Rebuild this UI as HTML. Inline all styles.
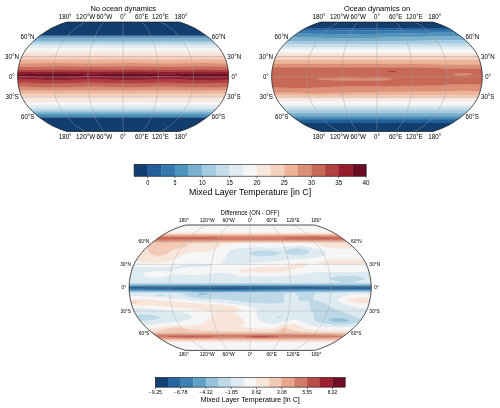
<!DOCTYPE html>
<html><head><meta charset="utf-8"><style>html,body{margin:0;padding:0;background:#fff;width:500px;height:408px;overflow:hidden}svg{display:block}</style></head><body><svg width="500" height="408" viewBox="0 0 500 408" font-family="Liberation Sans, sans-serif"><clipPath id="c0"><path d="M66.95 131.40L65.32 130.92L63.60 130.39L61.71 129.73L59.63 128.93L57.43 128.04L55.18 127.06L52.97 126.03L50.88 124.96L48.93 123.85L47.09 122.72L45.30 121.56L43.57 120.37L41.87 119.17L40.21 117.94L38.58 116.69L37.00 115.42L35.47 114.14L33.99 112.84L32.58 111.53L31.25 110.21L30.01 108.87L28.84 107.53L27.70 106.18L26.61 104.83L25.60 103.47L24.66 102.10L23.81 100.73L23.01 99.36L22.27 97.99L21.61 96.62L21.02 95.25L20.51 93.88L20.08 92.51L19.70 91.14L19.34 89.77L18.99 88.40L18.68 87.03L18.41 85.66L18.19 84.29L18.01 82.92L17.87 81.55L17.75 80.18L17.66 78.81L17.61 77.44L17.61 76.06L17.66 74.69L17.75 73.32L17.87 71.95L18.01 70.58L18.19 69.21L18.41 67.84L18.68 66.47L18.99 65.10L19.34 63.73L19.70 62.36L20.08 60.99L20.51 59.62L21.02 58.25L21.61 56.88L22.27 55.51L23.01 54.14L23.81 52.77L24.66 51.40L25.60 50.03L26.61 48.67L27.70 47.32L28.84 45.97L30.01 44.63L31.25 43.29L32.58 41.97L33.99 40.66L35.47 39.36L37.00 38.08L38.58 36.81L40.21 35.56L41.87 34.33L43.57 33.13L45.30 31.94L47.09 30.78L48.93 29.65L50.88 28.54L52.97 27.47L55.18 26.44L57.43 25.46L59.63 24.57L61.71 23.77L63.60 23.11L65.32 22.58L66.95 22.10L179.25 22.10L180.88 22.58L182.60 23.11L184.49 23.77L186.57 24.57L188.77 25.46L191.02 26.44L193.23 27.47L195.32 28.54L197.27 29.65L199.11 30.78L200.90 31.94L202.63 33.13L204.33 34.33L205.99 35.56L207.62 36.81L209.20 38.08L210.73 39.36L212.21 40.66L213.62 41.97L214.95 43.29L216.19 44.63L217.36 45.97L218.50 47.32L219.59 48.67L220.60 50.03L221.54 51.40L222.39 52.77L223.19 54.14L223.93 55.51L224.59 56.88L225.18 58.25L225.69 59.62L226.12 60.99L226.50 62.36L226.86 63.73L227.21 65.10L227.52 66.47L227.79 67.84L228.01 69.21L228.19 70.58L228.33 71.95L228.45 73.32L228.54 74.69L228.59 76.06L228.59 77.44L228.54 78.81L228.45 80.18L228.33 81.55L228.19 82.92L228.01 84.29L227.79 85.66L227.52 87.03L227.21 88.40L226.86 89.77L226.50 91.14L226.12 92.51L225.69 93.88L225.18 95.25L224.59 96.62L223.93 97.99L223.19 99.36L222.39 100.73L221.54 102.10L220.60 103.47L219.59 104.83L218.50 106.18L217.36 107.53L216.19 108.87L214.95 110.21L213.62 111.53L212.21 112.84L210.73 114.14L209.20 115.42L207.62 116.69L205.99 117.94L204.33 119.17L202.63 120.37L200.90 121.56L199.11 122.72L197.27 123.85L195.32 124.96L193.23 126.03L191.02 127.06L188.77 128.04L186.57 128.93L184.49 129.73L182.60 130.39L180.88 130.92L179.25 131.40Z"/></clipPath>
<g clip-path="url(#c0)">
<path fill="#113e6f" stroke="#113e6f" stroke-width="0.35" d="M16.4 132.5l214.3 0l0 -14.5l-215.2 0l0 14.5ZM16.4 35.5l214.3 0l0 -14.5l-215.2 0l0 14.5Z"/>
<path fill="#235d9a" stroke="#235d9a" stroke-width="0.35" d="M16.4 118.0l214.3 0l0 -1l-215.2 0l0 1ZM16.4 36.3l214.3 0l0 -.8l-215.2 0l0 .8Z"/>
<path fill="#3679af" stroke="#3679af" stroke-width="0.35" d="M16.4 117.0l214.3 0l0 -1.1l-215.2 0l0 1.1ZM16.4 37.4l214.3 0l0 -1.1l-215.2 0l0 1.1Z"/>
<path fill="#4c93be" stroke="#4c93be" stroke-width="0.35" d="M16.4 115.9l214.3 0l0 -1.9l-215.2 0l0 1.9ZM16.4 38.6l214.3 0l0 -1.2l-215.2 0l0 1.2Z"/>
<path fill="#79b1cf" stroke="#79b1cf" stroke-width="0.35" d="M16.4 114.0l214.3 0l0 -2l-215.2 0l0 2ZM16.4 41.0l214.3 0l0 -2.4l-215.2 0l0 2.4Z"/>
<path fill="#a3cbdf" stroke="#a3cbdf" stroke-width="0.35" d="M16.4 112.0l214.3 0l0 -2l-215.2 0l0 2ZM16.4 43.0l214.3 0l0 -2l-215.2 0l0 2Z"/>
<path fill="#c7deea" stroke="#c7deea" stroke-width="0.35" d="M16.4 110.0l214.3 0l0 -2l-215.2 0l0 2ZM16.4 45.0l214.3 0l0 -2l-215.2 0l0 2Z"/>
<path fill="#e1ecf2" stroke="#e1ecf2" stroke-width="0.35" d="M16.4 108.0l214.3 0l0 -3l-215.2 0l0 3ZM16.4 48.1l214.3 -.1l0 -3l-215.2 0l0 3Z"/>
<path fill="#f7f6f6" stroke="#f7f6f6" stroke-width="0.35" d="M16.4 105.0l214.3 0l0 -3.1l-215.2 0l0 3.1ZM16.4 52.0l214.3 0l0 -4l-215.2 0l0 4Z"/>
<path fill="#f8e7dd" stroke="#f8e7dd" stroke-width="0.35" d="M16.4 101.9l214.3 0l0 -5.4l-27.8 .2l-38.5 -.3l-35 .3l-37.7 -.3l-35.9 .3l-40.3 -.3l0 5.5ZM16.4 56.1l39.4 -.2l35.9 .2l37.7 -.2l35 .2l38.5 -.2l27.8 .1l0 -4l-215.2 0l0 4.1Z"/>
<path fill="#f5d2bf" stroke="#f5d2bf" stroke-width="0.35" d="M46.0 96.6l47.5 -.2l37.7 .3l35.8 -.3l36.8 .3l26.9 -.2l0 -3l-27.8 .2l-38.5 -.3l-35 .3l-37.7 -.3l-35.9 .3l-40.3 -.3l0 3l29.9 .2ZM16.4 59.6l39.4 -.4l35.9 .4l37.7 -.4l35 .4l38.5 -.4l27.8 .3l0 -3.5l-27.8 -.1l-38.5 .2l-35 -.2l-37.7 .2l-35.9 -.2l-40.3 .2l0 3.5Z"/>
<path fill="#edb49a" stroke="#edb49a" stroke-width="0.35" d="M29.8 93.5l26.9 .2l38.6 -.3l35 .3l37.6 -.3l35.9 .3l26.9 -.2l0 -3.4l-27.8 .4l-38.5 -.4l-35 .4l-37.7 -.4l-35.9 .4l-40.3 -.4l0 3.3l13.6 .1ZM16.4 63.5l39.4 -.5l35.9 .5l37.7 -.5l35 .5l38.5 -.5l27.8 .5l0 -4l-27.8 -.3l-38.5 .4l-35 -.4l-37.7 .4l-35.9 -.4l-40.3 .4l0 3.9Z"/>
<path fill="#dc9078" stroke="#dc9078" stroke-width="0.35" d="M39.7 90.3l19.7 .2l35 -.4l36.8 .4l35.8 -.4l36.8 .4l26.9 -.4l0 -3.4l-27.8 .6l-38.5 -.7l-35 .7l-37.7 -.7l-35.9 .7l-30.4 -.6l-9.9 -.1l0 3.5l24 .2ZM16.4 66.9l39.4 -.6l35.9 .6l37.7 -.6l35 .6l38.5 -.6l27.8 .5l0 -3.3l-27.8 -.5l-38.5 .5l-35 -.5l-37.7 .5l-35.9 -.5l-40.3 .5l0 3.4Z"/>
<path fill="#c86958" stroke="#c86958" stroke-width="0.35" d="M46.9 87.2l15.2 .1l30.5 -.7l35 .7l38.5 -.7l32.3 .7l17.1 -.1l15.2 -.5l0 -3.9l-18.8 .6l-9 .2l-27.8 -.8l-10.7 -.1l-35 .9l-27.8 -.8l-9.9 -.1l-35.9 .9l-28.7 -.8l-11.6 -.1l0 3.9l10.8 .1l19.7 .5ZM16.4 70.1l39.4 -.6l35.9 .6l37.7 -.6l34.1 .6l39.4 -.6l27.8 .5l0 -3.2l-27.8 -.5l-38.5 .6l-35 -.6l-37.7 .6l-29.6 -.6l-13.4 .1l-21.6 .5l-11.6 0l0 3.2Z"/>
<path fill="#b14041" stroke="#b14041" stroke-width="0.35" d="M46.0 83.4l14.3 .1l23.3 -.7l9.9 -.1l37.7 .8l35.8 -.8l30.5 .8l12.6 0l20.6 -.7l0 -3.2l-27.8 .6l-27.8 -.7l-10.7 0l-35 .7l-37.7 -.7l-35.9 .7l-28.7 -.7l-11.6 0l0 3.2l11.6 .1l18.2 .6ZM16.4 71.8l39.4 -.5l35.9 .5l37.7 -.5l35 .5l38.5 -.5l27.8 .4l0 -1.7l-27.8 -.5l-39.4 .6l-34.1 -.6l-37.7 .6l-38.5 -.6l-24.3 .5l-13.4 .1l0 1.7Z"/>
<path fill="#961d2e" stroke="#961d2e" stroke-width="0.35" d="M54.9 80.2l37.7 -.7l35 .7l38.5 -.7l9.9 .1l22.4 .6l11.7 0l20.6 -.6l0 -2.9l-16 .7l-12.7 .2l-9.8 -.2l-18.9 -.8l-8.1 -.2l-24.2 1l-11.6 .2l-10.9 -.2l-18.7 -.8l-8.1 -.2l-24.2 1l-11.7 .2l-12.5 -.2l-18.8 -.9l-9 0l0 3l12.2 0l26.6 .7ZM16.4 74.4l9 -.1l13.2 -.7l17.2 -.3l17.9 .3l10.8 .6l7.2 .2l8.1 -.1l12.4 -.7l17.2 -.3l18 .3l17.8 .8l9 -.2l11.7 -.6l16.1 -.2l19 .2l9.7 .5l0 -2.4l-26 -.4l-37.7 .5l-34.9 -.5l-38.6 .5l-31.4 -.5l-15.2 .1l-31.4 .4l0 2.5Z"/>
<path fill="#6d0d24" stroke="#6d0d24" stroke-width="0.35" d="M45.1 77.5l19.7 0l21.5 -.9l7.2 -.2l7.2 .2l17.8 .8l14.5 .2l8.9 -.2l18 -.8l7.1 -.2l7.2 .2l18 .8l18.8 .1l12.9 -.4l6.8 -.4l0 -2.6l-9.7 -.5l-19 -.2l-16.1 .2l-11.7 .6l-9 .2l-17.8 -.8l-18 -.3l-17.2 .3l-12.4 .7l-8.1 .1l-7.2 -.2l-10.8 -.6l-17.9 -.3l-17.2 .3l-15 .7l-8.1 0l0 2.2l9.9 0l19.5 .9Z"/>
<path fill="none" stroke="#a0a0a0" stroke-opacity="0.62" stroke-width="0.7" d="M85.67 131.40L84.01 130.66L82.15 129.72L80.02 128.47L77.77 127.03L75.58 125.45L73.59 123.80L71.75 122.07L70.00 120.29L68.30 118.46L66.66 116.58L65.09 114.66L63.59 112.71L62.20 110.72L60.95 108.72L59.78 106.69L58.68 104.64L57.69 102.59L56.82 100.53L56.04 98.46L55.37 96.39L54.81 94.32L54.37 92.26L54.00 90.19L53.65 88.12L53.36 86.05L53.13 83.99L52.97 81.92L52.85 79.85L52.78 77.78L52.78 75.72L52.85 73.65L52.97 71.58L53.13 69.51L53.36 67.45L53.65 65.38L54.00 63.31L54.37 61.24L54.81 59.18L55.37 57.11L56.04 55.04L56.82 52.97L57.69 50.91L58.68 48.86L59.78 46.81L60.95 44.78L62.20 42.78L63.59 40.79L65.09 38.84L66.66 36.92L68.30 35.04L70.00 33.21L71.75 31.43L73.59 29.70L75.58 28.05L77.77 26.47L80.02 25.03L82.15 23.78L84.01 22.84L85.67 22.10M104.38 131.40L103.55 130.66L102.62 129.72L101.56 128.47L100.43 127.03L99.34 125.45L98.35 123.80L97.43 122.07L96.55 120.29L95.70 118.46L94.88 116.58L94.09 114.66L93.35 112.71L92.65 110.72L92.02 108.72L91.44 106.69L90.89 104.64L90.40 102.59L89.96 100.53L89.57 98.46L89.23 96.39L88.96 94.32L88.74 92.26L88.55 90.19L88.38 88.12L88.23 86.05L88.12 83.99L88.03 81.92L87.98 79.85L87.94 77.78L87.94 75.72L87.98 73.65L88.03 71.58L88.12 69.51L88.23 67.45L88.38 65.38L88.55 63.31L88.74 61.24L88.96 59.18L89.23 57.11L89.57 55.04L89.96 52.97L90.40 50.91L90.89 48.86L91.44 46.81L92.02 44.78L92.65 42.78L93.35 40.79L94.09 38.84L94.88 36.92L95.70 35.04L96.55 33.21L97.43 31.43L98.35 29.70L99.34 28.05L100.43 26.47L101.56 25.03L102.62 23.78L103.55 22.84L104.38 22.10M123.10 131.40L123.10 130.66L123.10 129.72L123.10 128.47L123.10 127.03L123.10 125.45L123.10 123.80L123.10 122.07L123.10 120.29L123.10 118.46L123.10 116.58L123.10 114.66L123.10 112.71L123.10 110.72L123.10 108.72L123.10 106.69L123.10 104.64L123.10 102.59L123.10 100.53L123.10 98.46L123.10 96.39L123.10 94.32L123.10 92.26L123.10 90.19L123.10 88.12L123.10 86.05L123.10 83.99L123.10 81.92L123.10 79.85L123.10 77.78L123.10 75.72L123.10 73.65L123.10 71.58L123.10 69.51L123.10 67.45L123.10 65.38L123.10 63.31L123.10 61.24L123.10 59.18L123.10 57.11L123.10 55.04L123.10 52.97L123.10 50.91L123.10 48.86L123.10 46.81L123.10 44.78L123.10 42.78L123.10 40.79L123.10 38.84L123.10 36.92L123.10 35.04L123.10 33.21L123.10 31.43L123.10 29.70L123.10 28.05L123.10 26.47L123.10 25.03L123.10 23.78L123.10 22.84L123.10 22.10M141.82 131.40L142.65 130.66L143.58 129.72L144.64 128.47L145.77 127.03L146.86 125.45L147.85 123.80L148.77 122.07L149.65 120.29L150.50 118.46L151.32 116.58L152.11 114.66L152.85 112.71L153.55 110.72L154.18 108.72L154.76 106.69L155.31 104.64L155.80 102.59L156.24 100.53L156.63 98.46L156.97 96.39L157.24 94.32L157.46 92.26L157.65 90.19L157.82 88.12L157.97 86.05L158.08 83.99L158.17 81.92L158.22 79.85L158.26 77.78L158.26 75.72L158.22 73.65L158.17 71.58L158.08 69.51L157.97 67.45L157.82 65.38L157.65 63.31L157.46 61.24L157.24 59.18L156.97 57.11L156.63 55.04L156.24 52.97L155.80 50.91L155.31 48.86L154.76 46.81L154.18 44.78L153.55 42.78L152.85 40.79L152.11 38.84L151.32 36.92L150.50 35.04L149.65 33.21L148.77 31.43L147.85 29.70L146.86 28.05L145.77 26.47L144.64 25.03L143.58 23.78L142.65 22.84L141.82 22.10M160.53 131.40L162.19 130.66L164.05 129.72L166.18 128.47L168.43 127.03L170.62 125.45L172.61 123.80L174.45 122.07L176.20 120.29L177.90 118.46L179.54 116.58L181.11 114.66L182.61 112.71L184.00 110.72L185.25 108.72L186.42 106.69L187.52 104.64L188.51 102.59L189.38 100.53L190.16 98.46L190.83 96.39L191.39 94.32L191.83 92.26L192.20 90.19L192.55 88.12L192.84 86.05L193.07 83.99L193.23 81.92L193.35 79.85L193.42 77.78L193.42 75.72L193.35 73.65L193.23 71.58L193.07 69.51L192.84 67.45L192.55 65.38L192.20 63.31L191.83 61.24L191.39 59.18L190.83 57.11L190.16 55.04L189.38 52.97L188.51 50.91L187.52 48.86L186.42 46.81L185.25 44.78L184.00 42.78L182.61 40.79L181.11 38.84L179.54 36.92L177.90 35.04L176.20 33.21L174.45 31.43L172.61 29.70L170.62 28.05L168.43 26.47L166.18 25.03L164.05 23.78L162.19 22.84L160.53 22.10M38.85 116.90L207.35 116.90M21.82 97.08L224.38 97.08M17.60 76.75L228.60 76.75M21.82 56.42L224.38 56.42M38.85 36.60L207.35 36.60"/>
</g>
<path fill="none" stroke="#1a1a1a" stroke-width="0.75" d="M66.95 131.40L65.32 130.92L63.60 130.39L61.71 129.73L59.63 128.93L57.43 128.04L55.18 127.06L52.97 126.03L50.88 124.96L48.93 123.85L47.09 122.72L45.30 121.56L43.57 120.37L41.87 119.17L40.21 117.94L38.58 116.69L37.00 115.42L35.47 114.14L33.99 112.84L32.58 111.53L31.25 110.21L30.01 108.87L28.84 107.53L27.70 106.18L26.61 104.83L25.60 103.47L24.66 102.10L23.81 100.73L23.01 99.36L22.27 97.99L21.61 96.62L21.02 95.25L20.51 93.88L20.08 92.51L19.70 91.14L19.34 89.77L18.99 88.40L18.68 87.03L18.41 85.66L18.19 84.29L18.01 82.92L17.87 81.55L17.75 80.18L17.66 78.81L17.61 77.44L17.61 76.06L17.66 74.69L17.75 73.32L17.87 71.95L18.01 70.58L18.19 69.21L18.41 67.84L18.68 66.47L18.99 65.10L19.34 63.73L19.70 62.36L20.08 60.99L20.51 59.62L21.02 58.25L21.61 56.88L22.27 55.51L23.01 54.14L23.81 52.77L24.66 51.40L25.60 50.03L26.61 48.67L27.70 47.32L28.84 45.97L30.01 44.63L31.25 43.29L32.58 41.97L33.99 40.66L35.47 39.36L37.00 38.08L38.58 36.81L40.21 35.56L41.87 34.33L43.57 33.13L45.30 31.94L47.09 30.78L48.93 29.65L50.88 28.54L52.97 27.47L55.18 26.44L57.43 25.46L59.63 24.57L61.71 23.77L63.60 23.11L65.32 22.58L66.95 22.10L179.25 22.10L180.88 22.58L182.60 23.11L184.49 23.77L186.57 24.57L188.77 25.46L191.02 26.44L193.23 27.47L195.32 28.54L197.27 29.65L199.11 30.78L200.90 31.94L202.63 33.13L204.33 34.33L205.99 35.56L207.62 36.81L209.20 38.08L210.73 39.36L212.21 40.66L213.62 41.97L214.95 43.29L216.19 44.63L217.36 45.97L218.50 47.32L219.59 48.67L220.60 50.03L221.54 51.40L222.39 52.77L223.19 54.14L223.93 55.51L224.59 56.88L225.18 58.25L225.69 59.62L226.12 60.99L226.50 62.36L226.86 63.73L227.21 65.10L227.52 66.47L227.79 67.84L228.01 69.21L228.19 70.58L228.33 71.95L228.45 73.32L228.54 74.69L228.59 76.06L228.59 77.44L228.54 78.81L228.45 80.18L228.33 81.55L228.19 82.92L228.01 84.29L227.79 85.66L227.52 87.03L227.21 88.40L226.86 89.77L226.50 91.14L226.12 92.51L225.69 93.88L225.18 95.25L224.59 96.62L223.93 97.99L223.19 99.36L222.39 100.73L221.54 102.10L220.60 103.47L219.59 104.83L218.50 106.18L217.36 107.53L216.19 108.87L214.95 110.21L213.62 111.53L212.21 112.84L210.73 114.14L209.20 115.42L207.62 116.69L205.99 117.94L204.33 119.17L202.63 120.37L200.90 121.56L199.11 122.72L197.27 123.85L195.32 124.96L193.23 126.03L191.02 127.06L188.77 128.04L186.57 128.93L184.49 129.73L182.60 130.39L180.88 130.92L179.25 131.40Z"/>
<clipPath id="c1"><path d="M320.88 131.40L319.25 130.92L317.54 130.39L315.64 129.73L313.57 128.93L311.37 128.04L309.13 127.06L306.92 126.03L304.83 124.96L302.89 123.85L301.04 122.72L299.26 121.56L297.53 120.37L295.84 119.17L294.17 117.94L292.55 116.69L290.97 115.42L289.44 114.14L287.96 112.84L286.55 111.53L285.23 110.21L283.99 108.87L282.82 107.53L281.69 106.18L280.60 104.83L279.59 103.47L278.65 102.10L277.80 100.73L277.00 99.36L276.26 97.99L275.60 96.62L275.02 95.25L274.51 93.88L274.08 92.51L273.70 91.14L273.34 89.77L272.99 88.40L272.68 87.03L272.41 85.66L272.19 84.29L272.01 82.92L271.87 81.55L271.75 80.18L271.66 78.81L271.61 77.44L271.61 76.06L271.66 74.69L271.75 73.32L271.87 71.95L272.01 70.58L272.19 69.21L272.41 67.84L272.68 66.47L272.99 65.10L273.34 63.73L273.70 62.36L274.08 60.99L274.51 59.62L275.02 58.25L275.60 56.88L276.26 55.51L277.00 54.14L277.80 52.77L278.65 51.40L279.59 50.03L280.60 48.67L281.69 47.32L282.82 45.97L283.99 44.63L285.23 43.29L286.55 41.97L287.96 40.66L289.44 39.36L290.97 38.08L292.55 36.81L294.17 35.56L295.84 34.33L297.53 33.13L299.26 31.94L301.04 30.78L302.89 29.65L304.83 28.54L306.92 27.47L309.13 26.44L311.37 25.46L313.57 24.57L315.64 23.77L317.54 23.11L319.25 22.58L320.88 22.10L433.02 22.10L434.65 22.58L436.36 23.11L438.26 23.77L440.33 24.57L442.53 25.46L444.77 26.44L446.98 27.47L449.07 28.54L451.01 29.65L452.86 30.78L454.64 31.94L456.37 33.13L458.06 34.33L459.73 35.56L461.35 36.81L462.93 38.08L464.46 39.36L465.94 40.66L467.35 41.97L468.67 43.29L469.91 44.63L471.08 45.97L472.21 47.32L473.30 48.67L474.31 50.03L475.25 51.40L476.10 52.77L476.90 54.14L477.64 55.51L478.30 56.88L478.88 58.25L479.39 59.62L479.82 60.99L480.20 62.36L480.56 63.73L480.91 65.10L481.22 66.47L481.49 67.84L481.71 69.21L481.89 70.58L482.03 71.95L482.15 73.32L482.24 74.69L482.29 76.06L482.29 77.44L482.24 78.81L482.15 80.18L482.03 81.55L481.89 82.92L481.71 84.29L481.49 85.66L481.22 87.03L480.91 88.40L480.56 89.77L480.20 91.14L479.82 92.51L479.39 93.88L478.88 95.25L478.30 96.62L477.64 97.99L476.90 99.36L476.10 100.73L475.25 102.10L474.31 103.47L473.30 104.83L472.21 106.18L471.08 107.53L469.91 108.87L468.67 110.21L467.35 111.53L465.94 112.84L464.46 114.14L462.93 115.42L461.35 116.69L459.73 117.94L458.06 119.17L456.37 120.37L454.64 121.56L452.86 122.72L451.01 123.85L449.07 124.96L446.98 126.03L444.77 127.06L442.53 128.04L440.33 128.93L438.26 129.73L436.36 130.39L434.65 130.92L433.02 131.40Z"/></clipPath>
<g clip-path="url(#c1)">
<path fill="#113e6f" stroke="#113e6f" stroke-width="0.35" d="M270.4 132.5l214 0l0 -9.6l-214.9 0l0 9.6ZM270.4 28.1l77 .2l137 -.3l0 -7l-214.9 0l0 7.1Z"/>
<path fill="#235d9a" stroke="#235d9a" stroke-width="0.35" d="M270.4 122.9l214 0l0 -2.9l-214.9 0l0 2.9ZM307.1 30.4l44.8 .2l83.3 -.7l49.2 .1l0 -2l-137 .3l-77.9 -.2l0 2l36.8 .3Z"/>
<path fill="#3679af" stroke="#3679af" stroke-width="0.35" d="M270.4 120.0l214 0l0 -2l-214.9 0l0 2ZM343.8 34.2l26.9 -.2l68 -1.3l18.8 0l26.9 .2l0 -2.9l-48.3 -.1l-89.6 .7l-77 -.5l0 3.2l74.1 .9Z"/>
<path fill="#4c93be" stroke="#4c93be" stroke-width="0.35" d="M270.4 118.0l214 0l0 -2l-214.9 0l0 2ZM325.0 38.1l23.3 .1l23.3 -.2l74.3 -1.7l15.2 .1l23.3 .3l0 -3.8l-26.9 -.2l-18.8 0l-66.2 1.3l-25.1 .2l-21.5 -.1l-56.4 -.8l0 4l54.8 .8Z"/>
<path fill="#79b1cf" stroke="#79b1cf" stroke-width="0.35" d="M270.4 116.0l214 0l0 -3l-214.9 0l0 3ZM329.5 41.6l58.2 -.2l60.9 -1.1l35.8 .4l0 -4l-24.2 -.4l-16.1 .1l-58.2 1.4l-36.7 .4l-25.1 -.1l-54.6 -.8l0 3.8l59.7 .5Z"/>
<path fill="#a3cbdf" stroke="#a3cbdf" stroke-width="0.35" d="M270.4 113.0l214 0l0 -3l-214.9 0l0 3ZM270.4 44.1l80.6 .2l43.9 -.1l51.9 -.5l37.6 .2l0 -3.2l-36.7 -.4l-48.4 .9l-48.3 .4l-81.5 -.5l0 3Z"/>
<path fill="#c7deea" stroke="#c7deea" stroke-width="0.35" d="M270.4 110.0l214 0l0 -3l-214.9 0l0 3ZM270.4 47.0l80.6 .1l95.8 -.3l37.6 .1l0 -3l-37.6 -.2l-51.9 .5l-43.9 .1l-81.5 -.2l0 2.9Z"/>
<path fill="#e1ecf2" stroke="#e1ecf2" stroke-width="0.35" d="M270.4 107.0l214 0l0 -2l-214.9 0l0 2ZM270.4 49.1l214 -.1l0 -2.1l-37.6 -.1l-95.8 .3l-81.5 -.1l0 2.1Z"/>
<path fill="#f7f6f6" stroke="#f7f6f6" stroke-width="0.35" d="M270.4 105.0l214 0l0 -4l-214.9 0l0 4ZM270.4 53.0l214 -.1l0 -3.9l-214.9 .1l0 3.9Z"/>
<path fill="#f8e7dd" stroke="#f8e7dd" stroke-width="0.35" d="M270.4 101.0l214 0l0 -3.6l-162.1 .2l-52.8 -.1l0 3.5ZM270.4 56.0l214 0l0 -3.1l-214.9 .1l0 3Z"/>
<path fill="#f5d2bf" stroke="#f5d2bf" stroke-width="0.35" d="M270.4 97.5l51.9 .1l162.1 -.2l0 -2.4l-84.2 0l-77 .5l-53.7 -.3l0 2.3ZM443.2 60.0l41.2 0l0 -4l-214.9 0l0 4l173.2 0Z"/>
<path fill="#edb49a" stroke="#edb49a" stroke-width="0.35" d="M270.4 95.2l52.8 .3l77 -.5l84.2 0l0 -3.8l-23.3 -.4l-25.8 .6l-51.2 .4l-42.1 1l-18.8 .3l-23.3 -.2l-30.4 -.7l0 3ZM450.4 64.6l16.1 .3l17.9 -.5l0 -4.4l-214.9 0l0 4l148.6 0l16.2 .2l15.8 .4Z"/>
<path fill="#dc9078" stroke="#dc9078" stroke-width="0.35" d="M291.9 92.8l17.9 .3l17 0l57.3 -1.3l51.2 -.4l25.8 -.6l23.3 .4l0 -6.4l-12.5 -.7l-10.8 -.1l-35.2 1.8l-78.5 .5l-12.5 .4l-22.4 1.1l-9.9 .2l-13.4 -.2l-19.7 -.9l0 5.3l22.1 .6ZM341.1 80.6l26 -.2l15.2 .2l6.3 -.5l2.4 -.6l.4 -.3l-.1 -.4l-.8 -.3l-1.9 -.4l-3.6 -.4l-4.5 -.1l-14.3 .4l-18.8 -.2l-15.2 .1l-12.2 .6l-2.6 .3l-.5 .4l1.4 .3l6.7 .6l15.7 .5ZM459.3 75.4l4.5 .1l4.5 -.2l3.6 -.4l.9 -.2l.6 -.4l-.6 -.4l-2.7 -.5l-7.2 -.3l-7.1 .3l-2.7 .6l-.4 .3l.5 .4l1.6 .3l3.7 .4ZM457.5 68.8l12.6 0l14.3 -.5l0 -3.9l-19.7 .5l-28.6 -.7l-15.3 -.2l-151.3 0l0 3.5l149.5 .1l14.4 .2l23.3 .9Z"/>
<path fill="#c86958" stroke="#c86958" stroke-width="0.35" d="M291.9 87.9l16.1 0l26 -1.2l16.1 -.4l75.8 -.5l10.2 -.4l17.9 -1.1l8 -.3l9.9 .1l12.5 .7l0 -16.5l-11.1 .4l-9.5 .1l-9.8 -.1l-22.4 -.9l-12.6 -.2l-149.5 -.1l0 19.4l22 1ZM340.7 80.6l-15.7 -.5l-6.7 -.6l-1.4 -.3l.5 -.4l2.6 -.3l12.2 -.6l15.2 -.1l18.8 .2l14.3 -.4l4.5 .1l3.6 .4l1.9 .4l.8 .3l.1 .4l-.4 .3l-2.4 .6l-6.3 .5l-15.2 -.2l-26 .2ZM458.5 75.4l-3.7 -.4l-1.6 -.3l-.5 -.4l.4 -.3l2.7 -.6l7.1 -.3l7.2 .3l2.7 .5l.6 .4l-.6 .4l-.9 .2l-3.6 .4l-4.5 .2l-4.5 -.1ZM389.0 72.2l-1.1 -.3l-.4 -.4l.3 -.3l1 -.4l3.4 -.3l3 .3l1 .4l.3 .3l-.7 .5l-1.8 .4l-2.7 .1l-1.8 -.2Z"/>
<path fill="#b14041" stroke="#b14041" stroke-width="0.35" d="M389.5 72.3l1.8 .2l2.7 -.1l1.8 -.4l.7 -.5l-.3 -.3l-1 -.4l-3 -.3l-3.4 .3l-1 .4l-.3 .3l.4 .4l1.1 .3Z"/>
<path fill="none" stroke="#a0a0a0" stroke-opacity="0.62" stroke-width="0.7" d="M339.57 131.40L337.92 130.66L336.06 129.72L333.93 128.47L331.68 127.03L329.49 125.45L327.51 123.80L325.68 122.07L323.93 120.29L322.23 118.46L320.59 116.58L319.02 114.66L317.53 112.71L316.14 110.72L314.89 108.72L313.72 106.69L312.62 104.64L311.63 102.59L310.76 100.53L309.99 98.46L309.31 96.39L308.76 94.32L308.32 92.26L307.95 90.19L307.60 88.12L307.30 86.05L307.08 83.99L306.92 81.92L306.80 79.85L306.73 77.78L306.73 75.72L306.80 73.65L306.92 71.58L307.08 69.51L307.30 67.45L307.60 65.38L307.95 63.31L308.32 61.24L308.76 59.18L309.31 57.11L309.99 55.04L310.76 52.97L311.63 50.91L312.62 48.86L313.72 46.81L314.89 44.78L316.14 42.78L317.53 40.79L319.02 38.84L320.59 36.92L322.23 35.04L323.93 33.21L325.68 31.43L327.51 29.70L329.49 28.05L331.68 26.47L333.93 25.03L336.06 23.78L337.92 22.84L339.57 22.10M358.26 131.40L357.43 130.66L356.50 129.72L355.44 128.47L354.32 127.03L353.22 125.45L352.23 123.80L351.31 122.07L350.44 120.29L349.59 118.46L348.77 116.58L347.99 114.66L347.24 112.71L346.55 110.72L345.92 108.72L345.34 106.69L344.79 104.64L344.29 102.59L343.86 100.53L343.47 98.46L343.13 96.39L342.85 94.32L342.63 92.26L342.45 90.19L342.28 88.12L342.13 86.05L342.02 83.99L341.93 81.92L341.88 79.85L341.84 77.78L341.84 75.72L341.88 73.65L341.93 71.58L342.02 69.51L342.13 67.45L342.28 65.38L342.45 63.31L342.63 61.24L342.85 59.18L343.13 57.11L343.47 55.04L343.86 52.97L344.29 50.91L344.79 48.86L345.34 46.81L345.92 44.78L346.55 42.78L347.24 40.79L347.99 38.84L348.77 36.92L349.59 35.04L350.44 33.21L351.31 31.43L352.23 29.70L353.22 28.05L354.32 26.47L355.44 25.03L356.50 23.78L357.43 22.84L358.26 22.10M376.95 131.40L376.95 130.66L376.95 129.72L376.95 128.47L376.95 127.03L376.95 125.45L376.95 123.80L376.95 122.07L376.95 120.29L376.95 118.46L376.95 116.58L376.95 114.66L376.95 112.71L376.95 110.72L376.95 108.72L376.95 106.69L376.95 104.64L376.95 102.59L376.95 100.53L376.95 98.46L376.95 96.39L376.95 94.32L376.95 92.26L376.95 90.19L376.95 88.12L376.95 86.05L376.95 83.99L376.95 81.92L376.95 79.85L376.95 77.78L376.95 75.72L376.95 73.65L376.95 71.58L376.95 69.51L376.95 67.45L376.95 65.38L376.95 63.31L376.95 61.24L376.95 59.18L376.95 57.11L376.95 55.04L376.95 52.97L376.95 50.91L376.95 48.86L376.95 46.81L376.95 44.78L376.95 42.78L376.95 40.79L376.95 38.84L376.95 36.92L376.95 35.04L376.95 33.21L376.95 31.43L376.95 29.70L376.95 28.05L376.95 26.47L376.95 25.03L376.95 23.78L376.95 22.84L376.95 22.10M395.64 131.40L396.47 130.66L397.40 129.72L398.46 128.47L399.58 127.03L400.68 125.45L401.67 123.80L402.59 122.07L403.46 120.29L404.31 118.46L405.13 116.58L405.91 114.66L406.66 112.71L407.35 110.72L407.98 108.72L408.56 106.69L409.11 104.64L409.61 102.59L410.04 100.53L410.43 98.46L410.77 96.39L411.05 94.32L411.27 92.26L411.45 90.19L411.62 88.12L411.77 86.05L411.88 83.99L411.97 81.92L412.02 79.85L412.06 77.78L412.06 75.72L412.02 73.65L411.97 71.58L411.88 69.51L411.77 67.45L411.62 65.38L411.45 63.31L411.27 61.24L411.05 59.18L410.77 57.11L410.43 55.04L410.04 52.97L409.61 50.91L409.11 48.86L408.56 46.81L407.98 44.78L407.35 42.78L406.66 40.79L405.91 38.84L405.13 36.92L404.31 35.04L403.46 33.21L402.59 31.43L401.67 29.70L400.68 28.05L399.58 26.47L398.46 25.03L397.40 23.78L396.47 22.84L395.64 22.10M414.33 131.40L415.98 130.66L417.84 129.72L419.97 128.47L422.22 127.03L424.41 125.45L426.39 123.80L428.22 122.07L429.97 120.29L431.67 118.46L433.31 116.58L434.88 114.66L436.37 112.71L437.76 110.72L439.01 108.72L440.18 106.69L441.28 104.64L442.27 102.59L443.14 100.53L443.91 98.46L444.59 96.39L445.14 94.32L445.58 92.26L445.95 90.19L446.30 88.12L446.60 86.05L446.82 83.99L446.98 81.92L447.10 79.85L447.17 77.78L447.17 75.72L447.10 73.65L446.98 71.58L446.82 69.51L446.60 67.45L446.30 65.38L445.95 63.31L445.58 61.24L445.14 59.18L444.59 57.11L443.91 55.04L443.14 52.97L442.27 50.91L441.28 48.86L440.18 46.81L439.01 44.78L437.76 42.78L436.37 40.79L434.88 38.84L433.31 36.92L431.67 35.04L429.97 33.21L428.22 31.43L426.39 29.70L424.41 28.05L422.22 26.47L419.97 25.03L417.84 23.78L415.98 22.84L414.33 22.10M292.82 116.90L461.08 116.90M275.81 97.08L478.09 97.08M271.60 76.75L482.30 76.75M275.81 56.42L478.09 56.42M292.82 36.60L461.08 36.60"/>
</g>
<path fill="none" stroke="#1a1a1a" stroke-width="0.75" d="M320.88 131.40L319.25 130.92L317.54 130.39L315.64 129.73L313.57 128.93L311.37 128.04L309.13 127.06L306.92 126.03L304.83 124.96L302.89 123.85L301.04 122.72L299.26 121.56L297.53 120.37L295.84 119.17L294.17 117.94L292.55 116.69L290.97 115.42L289.44 114.14L287.96 112.84L286.55 111.53L285.23 110.21L283.99 108.87L282.82 107.53L281.69 106.18L280.60 104.83L279.59 103.47L278.65 102.10L277.80 100.73L277.00 99.36L276.26 97.99L275.60 96.62L275.02 95.25L274.51 93.88L274.08 92.51L273.70 91.14L273.34 89.77L272.99 88.40L272.68 87.03L272.41 85.66L272.19 84.29L272.01 82.92L271.87 81.55L271.75 80.18L271.66 78.81L271.61 77.44L271.61 76.06L271.66 74.69L271.75 73.32L271.87 71.95L272.01 70.58L272.19 69.21L272.41 67.84L272.68 66.47L272.99 65.10L273.34 63.73L273.70 62.36L274.08 60.99L274.51 59.62L275.02 58.25L275.60 56.88L276.26 55.51L277.00 54.14L277.80 52.77L278.65 51.40L279.59 50.03L280.60 48.67L281.69 47.32L282.82 45.97L283.99 44.63L285.23 43.29L286.55 41.97L287.96 40.66L289.44 39.36L290.97 38.08L292.55 36.81L294.17 35.56L295.84 34.33L297.53 33.13L299.26 31.94L301.04 30.78L302.89 29.65L304.83 28.54L306.92 27.47L309.13 26.44L311.37 25.46L313.57 24.57L315.64 23.77L317.54 23.11L319.25 22.58L320.88 22.10L433.02 22.10L434.65 22.58L436.36 23.11L438.26 23.77L440.33 24.57L442.53 25.46L444.77 26.44L446.98 27.47L449.07 28.54L451.01 29.65L452.86 30.78L454.64 31.94L456.37 33.13L458.06 34.33L459.73 35.56L461.35 36.81L462.93 38.08L464.46 39.36L465.94 40.66L467.35 41.97L468.67 43.29L469.91 44.63L471.08 45.97L472.21 47.32L473.30 48.67L474.31 50.03L475.25 51.40L476.10 52.77L476.90 54.14L477.64 55.51L478.30 56.88L478.88 58.25L479.39 59.62L479.82 60.99L480.20 62.36L480.56 63.73L480.91 65.10L481.22 66.47L481.49 67.84L481.71 69.21L481.89 70.58L482.03 71.95L482.15 73.32L482.24 74.69L482.29 76.06L482.29 77.44L482.24 78.81L482.15 80.18L482.03 81.55L481.89 82.92L481.71 84.29L481.49 85.66L481.22 87.03L480.91 88.40L480.56 89.77L480.20 91.14L479.82 92.51L479.39 93.88L478.88 95.25L478.30 96.62L477.64 97.99L476.90 99.36L476.10 100.73L475.25 102.10L474.31 103.47L473.30 104.83L472.21 106.18L471.08 107.53L469.91 108.87L468.67 110.21L467.35 111.53L465.94 112.84L464.46 114.14L462.93 115.42L461.35 116.69L459.73 117.94L458.06 119.17L456.37 120.37L454.64 121.56L452.86 122.72L451.01 123.85L449.07 124.96L446.98 126.03L444.77 127.06L442.53 128.04L440.33 128.93L438.26 129.73L436.36 130.39L434.65 130.92L433.02 131.40Z"/>
<clipPath id="c2"><path d="M185.73 350.40L183.86 349.85L181.88 349.24L179.71 348.48L177.32 347.57L174.80 346.54L172.22 345.42L169.68 344.24L167.28 343.01L165.05 341.74L162.93 340.44L160.89 339.11L158.90 337.75L156.95 336.36L155.04 334.95L153.17 333.52L151.36 332.07L149.60 330.59L147.90 329.11L146.28 327.60L144.76 326.09L143.34 324.56L141.99 323.02L140.69 321.47L139.44 319.91L138.28 318.35L137.21 316.79L136.22 315.22L135.30 313.65L134.46 312.07L133.70 310.50L133.03 308.93L132.44 307.36L131.94 305.78L131.51 304.21L131.10 302.64L130.70 301.07L130.34 299.49L130.03 297.92L129.78 296.35L129.57 294.78L129.41 293.20L129.27 291.63L129.17 290.06L129.11 288.49L129.11 286.91L129.17 285.34L129.27 283.77L129.41 282.20L129.57 280.62L129.78 279.05L130.03 277.48L130.34 275.91L130.70 274.33L131.10 272.76L131.51 271.19L131.94 269.62L132.44 268.04L133.03 266.47L133.70 264.90L134.46 263.33L135.30 261.75L136.22 260.18L137.21 258.61L138.28 257.05L139.44 255.49L140.69 253.93L141.99 252.38L143.34 250.84L144.76 249.31L146.28 247.80L147.90 246.29L149.60 244.81L151.36 243.33L153.17 241.88L155.04 240.45L156.95 239.04L158.90 237.65L160.89 236.29L162.93 234.96L165.05 233.66L167.28 232.39L169.68 231.16L172.22 229.98L174.80 228.86L177.32 227.83L179.71 226.92L181.88 226.16L183.86 225.55L185.73 225.00L314.57 225.00L316.44 225.55L318.42 226.16L320.59 226.92L322.98 227.83L325.50 228.86L328.08 229.98L330.62 231.16L333.02 232.39L335.25 233.66L337.37 234.96L339.41 236.29L341.40 237.65L343.35 239.04L345.26 240.45L347.13 241.88L348.94 243.33L350.70 244.81L352.40 246.29L354.02 247.80L355.54 249.31L356.96 250.84L358.31 252.38L359.61 253.93L360.86 255.49L362.02 257.05L363.09 258.61L364.08 260.18L365.00 261.75L365.84 263.33L366.60 264.90L367.27 266.47L367.86 268.04L368.36 269.62L368.79 271.19L369.20 272.76L369.60 274.33L369.96 275.91L370.27 277.48L370.52 279.05L370.73 280.62L370.89 282.20L371.03 283.77L371.13 285.34L371.19 286.91L371.19 288.49L371.13 290.06L371.03 291.63L370.89 293.20L370.73 294.78L370.52 296.35L370.27 297.92L369.96 299.49L369.60 301.07L369.20 302.64L368.79 304.21L368.36 305.78L367.86 307.36L367.27 308.93L366.60 310.50L365.84 312.07L365.00 313.65L364.08 315.22L363.09 316.79L362.02 318.35L360.86 319.91L359.61 321.47L358.31 323.02L356.96 324.56L355.54 326.09L354.02 327.60L352.40 329.11L350.70 330.59L348.94 332.07L347.13 333.52L345.26 334.95L343.35 336.36L341.40 337.75L339.41 339.11L337.37 340.44L335.25 341.74L333.02 343.01L330.62 344.24L328.08 345.42L325.50 346.54L322.98 347.57L320.59 348.48L318.42 349.24L316.44 349.85L314.57 350.40Z"/></clipPath>
<g clip-path="url(#c2)">
<path fill="#124072" stroke="#124072" stroke-width="0.35" d="M150.3 288.1l87.5 .4l42.4 -.4l12.1 -.4l-19.8 -.4l-39.8 -.2l-91.3 .6l8.7 .4ZM323.2 288.1l22.6 .1l23.6 -.1l4.2 -.2l0 -.4l-8.4 -.2l-22.4 -.1l-13.8 .1l-17.5 .4l11.6 .4Z"/>
<path fill="#124072" stroke="#124072" stroke-width="0.35" d="M196.6 288.9l38.1 .2l58.7 -.4l51.4 .1l28.8 -.1l0 -.8l-4.2 .2l-27.7 .1l-18.6 -.1l-11.6 -.4l17.5 -.4l13.8 -.1l22.4 .1l8.4 .2l0 -.7l-76.1 .1l-64.8 -.2l-106 .2l0 1.7l69.8 .3ZM150.1 288.1l-8.7 -.4l91.3 -.6l39.8 .2l19.8 .4l-12.1 .4l-42.4 .4l-87.5 -.4Z"/>
<path fill="#2664a2" stroke="#2664a2" stroke-width="0.35" d="M148.3 289.7l84.4 .2l59.6 -.4l54.6 0l26.7 -.2l0 -.6l-28.8 .1l-51.4 -.1l-61.8 .4l-104.9 -.5l0 .8l21.4 .3ZM127.7 286.9l105 -.2l64.8 .2l76.1 -.1l0 -.5l-139.9 -.2l-107 .3l0 .5Z"/>
<path fill="#3d81b4" stroke="#3d81b4" stroke-width="0.35" d="M191.5 290.9l11.3 .4l170.8 -1l0 -1l-81.3 .2l-61.7 .4l-45.3 -.2l-28.8 .1l-29.8 -.4l0 1.1l26.7 .3l37.1 .1ZM127.7 286.3l106 -.2l139.9 .2l0 -.7l-246.9 0l0 .8Z"/>
<path fill="#61a1c6" stroke="#61a1c6" stroke-width="0.35" d="M197.7 292.1l114.6 -.4l45.9 -.5l15.4 .1l0 -1l-170.8 1l-17.5 -.5l-29.8 0l-28.8 -.3l0 1.1l55.5 .1l14.9 .4ZM127.7 285.6l245.9 0l0 -.6l-246.9 0l0 .6Z"/>
<path fill="#94c3da" stroke="#94c3da" stroke-width="0.35" d="M334.5 322.2l5.2 .3l5.1 -.3l2.6 -.5l1.2 -.4l.7 -.4l.3 -.4l-.1 -.4l-.5 -.4l-2.1 -.9l-3.1 -.6l-4.1 -.4l-4.1 0l-3.1 .4l-2.5 .7l-1.2 .8l-.1 .4l.2 .4l.5 .4l2 .8l2.2 .4ZM199.7 295.4l3.1 .2l3.1 -.4l1.7 -.7l.1 -.4l-.7 -.4l1.7 -.8l81.6 -.6l83.3 -.3l0 -.7l-16.4 -.1l-44.9 .5l-109.5 .5l-20.6 -.5l-55.5 -.1l0 .6l55.5 .1l15.8 .6l.7 .8l-.5 .4l-.2 .4l.4 .4l1 .4ZM127.7 285.0l245.9 0l0 -1l-246.9 0l0 1Z"/>
<path fill="#bdd9e7" stroke="#bdd9e7" stroke-width="0.35" d="M333.5 324.9l5.1 .1l5.2 -.1l5.1 -.4l4.1 -.5l4.2 -.9l3.1 -1l1.2 -.8l.3 -.4l.1 -.8l-1 -1.2l-2.4 -1.2l-8.4 -3.2l-9.4 -4.1l-8.2 -2.8l-7.2 -4.1l-3.1 -1.4l-8.6 -2.8l-.5 -.8l.1 -1.2l1.1 -2l1.3 -1.6l12.9 -.8l27.6 -.4l17.5 .1l0 -.6l-83.3 .3l-80.3 .6l-1.3 0l-1.7 .8l.7 .4l-.1 .4l-.7 .4l-2 .5l-3.1 .2l-2.1 -.2l-1.3 -.5l-.4 -.4l.2 -.4l.5 -.4l-.7 -.8l-7.5 -.4l-11.3 -.2l-52.5 -.1l0 .7l25.5 0l20.8 .2l7.2 .3l2.6 .3l3.3 2l3.1 1.2l3.3 .9l4.1 .6l6.2 .5l10.3 0l4.1 .1l29.2 3.5l13 1l10.3 .4l9.3 -.3l3 -.3l2.1 -.5l.6 -.3l.6 -.8l-1 -2.8l-.3 -1.6l.3 -1.6l1 -1.6l.9 -.5l3 -.5l2.1 -.1l2.4 .3l2 .4l1.2 1.2l.8 1.6l.4 3.2l.5 .8l.9 .4l1.1 .1l6.1 -.1l1.1 .2l.9 .6l.8 4.8l.6 2l.5 1.2l3.4 5.2l.1 1.2l-.6 2l0 .8l.4 .8l.7 .8l1.2 .8l1.8 .8l4 1.2l5.7 1l6.1 .6ZM333.6 322.1l-2.2 -.4l-2 -.8l-.5 -.4l-.2 -.4l.1 -.4l1.2 -.8l2.5 -.7l3.1 -.4l4.1 0l4.1 .4l3.1 .6l2.1 .9l.5 .4l.1 .4l-.3 .4l-.7 .4l-1.2 .4l-2.6 .5l-5.1 .3l-5.2 -.3ZM140.1 320.9l6.6 0l6.8 -.8l5 -1.2l1.5 -.8l.3 -.4l-.1 -.4l-.3 -.4l-1.7 -.8l-4.8 -1.2l-5.1 -.7l-5.2 -.3l-4.1 .1l-4.1 .6l-3.2 1.1l-.9 .6l-.5 .6l-.2 .8l.2 .4l.5 .5l1.1 .7l3 .9l4.7 .7ZM277.9 317.9l1.1 .1l1.8 -.3l.9 -.4l.4 -.4l-.1 -.2l-.1 -.2l-1.1 -.4l-1.8 -.1l-1.1 .2l-.8 .3l-.5 .4l-.1 .4l.5 .4ZM158.6 296.1l2 .1l2.8 -.1l1.7 -.4l.3 -.4l-.6 -.4l-1.1 -.3l-3.1 -.2l-3.1 .3l-.7 .2l-.5 .4l.4 .4l1.7 .4ZM127.7 284.0l245.9 0l0 -1.3l-11.9 -.2l-6.2 -.4l-2.2 -.4l4.9 -.5l3.2 -.7l2.1 -.8l.6 -.4l.4 -.4l0 -.4l-.7 -.8l-.8 -.4l-3.8 -1l-5.3 -.6l-7 -.2l-5.2 .1l-4.1 .4l-3.3 .5l-2.9 .8l-.8 .4l-.9 .8l0 .4l.3 .4l.6 .4l1.9 .8l2 .5l5.9 .7l-2.5 .4l-7 .4l-20 .1l-184.2 .1l0 1.3ZM259.4 256.5l7.2 .1l6.2 -.7l3.1 -.6l2.7 -.8l1.9 -.8l1.1 -.8l-1.8 -.8l-6 -1.3l-5.1 -.5l-5.2 -.2l-5.1 .3l-4.1 .6l-3.6 1.1l-.7 .4l-.6 .8l.2 .8l.4 .4l1.8 .8l3.5 .8l4 .4ZM295.4 255.4l5.2 -.1l2.8 -.4l2.3 -.5l1.7 -.7l1.3 -.8l.7 -.8l.1 -.8l-.2 -.4l-.9 -.8l-3.4 -1.2l-4.4 -.7l-4.1 -.1l-4.2 .4l-4.4 1.2l-2.4 1.2l-2.2 1.6l.1 .4l4 1.2l3.8 .8l3.4 .4Z"/>
<path fill="#deeaf1" stroke="#deeaf1" stroke-width="0.35" d="M326.3 327.3l7.2 .3l8.2 0l8.3 -.2l7.9 -.5l5.4 -.7l6.2 -1.5l4.1 -1.3l-.1 -12.9l-2.1 -.8l-17.3 -3.4l-9.3 -2.3l-3.3 -1.1l-1.7 -.8l-1.5 -1.2l-.2 -.8l.8 -1.2l1.2 -.8l1.8 -.8l5 -1.5l5.1 -.9l5.2 -.5l5.1 -.1l6.2 .4l5.1 .7l0 -2.8l-17.5 -.1l-27.6 .4l-12.9 .8l-1.3 1.6l-1.1 2l-.1 1.2l.5 .8l8.6 2.8l3.1 1.4l7.2 4.1l8.2 2.8l9.4 4.1l8.4 3.2l2.4 1.2l1 1.2l-.1 .8l-.3 .4l-1.2 .8l-2.2 .8l-3 .7l-8.2 1.1l-8.3 .3l-7.2 -.3l-7.2 -.9l-5.5 -1.3l-2.1 -.8l-1.4 -.8l-1 -.8l-.6 -.8l-.1 -.8l.6 -2.4l-.1 -1.2l-3.4 -5.2l-.5 -1.2l-.6 -2l-.8 -4.8l-.9 -.6l-1.1 -.2l-6.1 .1l-1.1 -.1l-.9 -.4l-.5 -.8l-.4 -3.2l-.8 -1.6l-1.2 -1.2l-2.3 -.5l-3.1 -.2l-2.1 .2l-2.4 .5l-.5 .4l-1 1.6l-.3 1.6l.3 1.6l1 2.8l-.6 .8l-.6 .3l-1.8 .5l-2.3 .3l-9.3 .3l-10.3 -.3l-14 -1.1l-29.2 -3.5l-4.1 -.1l-10.3 0l-6.2 -.5l-4.1 -.6l-3.3 -.9l-3.1 -1.2l-3.3 -2l-2.6 -.3l-7.2 -.3l-20.8 -.2l-25.5 0l0 4l11.3 -.4l9.3 .2l9.2 .9l12.4 .8l30.8 3l19.6 1.4l20.6 2.4l7.2 1l6.6 1.5l2 .8l1.1 .8l.5 .8l.1 .8l-1 2l-.2 1.6l.5 2l.9 1.6l1.3 1.6l2.2 1.6l2.4 1.1l2.6 .9l3.6 .7l4.1 .1l9.3 -1.6l8.2 -1.9l3.1 -.4l2.1 .1l2 .3l2.1 .6l8.2 3.6l4.1 1.3l3.1 .5l9.3 .7ZM277.0 317.7l-.5 -.4l.1 -.4l.5 -.4l.8 -.3l1.1 -.2l1.8 .1l1.1 .4l.1 .2l.1 .2l-.4 .4l-.9 .4l-1.8 .3l-1.1 -.1ZM158.4 296.1l-1.7 -.4l-.4 -.4l.5 -.4l.7 -.2l3.1 -.3l3.1 .2l1.1 .3l.6 .4l-.3 .4l-1.7 .4l-2.8 .1l-2 -.1ZM137.0 325.3l6.1 0l6.2 -.4l31.9 -3.3l5.2 -1l3 -1.2l2 -1.3l.5 -.8l0 -.8l-.6 -1.2l-1.9 -1.2l-3.9 -1.2l-4.4 -.8l-32.8 -3.7l-21.6 -1.4l0 17.3l5.1 .7l4.8 .3ZM139.6 320.9l-4.7 -.7l-3 -.9l-1.1 -.7l-.5 -.5l-.2 -.4l.2 -.8l.5 -.6l.9 -.6l3.2 -1.1l4.1 -.6l4.1 -.1l5.2 .3l5.1 .7l4.8 1.2l1.7 .8l.3 .4l.1 .4l-.3 .4l-1.5 .8l-5 1.2l-6.8 .8l-6.6 0ZM127.7 282.7l183.2 -.1l20 -.1l7 -.4l2.5 -.4l-5.9 -.7l-2 -.5l-1.9 -.8l-.6 -.4l-.3 -.4l0 -.4l.9 -.8l.8 -.4l2.9 -.8l3.3 -.5l4.1 -.4l5.2 -.1l7 .2l5.3 .6l3.8 1l.8 .4l.7 .8l0 .4l-.4 .4l-.6 .4l-2.1 .8l-3.2 .7l-4.9 .5l2.2 .4l6.2 .4l11.9 .2l0 -12.8l-2.2 .6l-2.9 .5l-11.3 .8l-11.4 .2l-22.6 -.2l-7.2 .2l-6.2 .6l-11.3 1.8l-7.2 .8l-9.3 .8l-9.2 .3l-9.3 0l-12.3 -.3l-7.2 .6l-2.1 0l-3.3 -.5l-5.9 -2.1l-2.1 -.5l-4.1 -.5l-4.1 -.2l-5.2 .1l-12.3 1.5l-8.3 .4l-8.2 -.1l-13.4 -1.1l-2 0l-2.1 .4l-3.9 1.7l-3.3 .9l-4.1 .6l-5.1 .2l-4.2 -.2l-4.1 -.7l-1.3 -.4l-1.6 -.8l-.3 -.4l-.1 -.8l.9 -.8l1.4 -.6l2.1 -.5l3 -.5l7.2 -.4l11.4 .4l2 -.3l6.2 -2.2l5.1 -1l6.2 -.4l13.4 -.2l3.1 -.2l2.1 -.5l5.6 -2.4l-.2 -.4l-3.4 -.2l-8.2 -.2l-6.2 .1l-9.3 .7l-7.2 1l-7.2 .8l-7.2 .4l-7.2 .2l-13.4 -.3l-16.4 -1.1l0 17.2ZM230.6 264.1l10 0l30.1 -2l7.2 -.6l13.4 -1.5l19.6 -1.5l8.1 -1.2l4.4 -1.2l1.6 -.8l.8 -.8l.4 -.8l0 -.8l-.4 -.8l-.9 -.8l-2.6 -1.2l-14.5 -3.4l-4.1 -.7l-3.1 -.3l-3.1 -.1l-4.1 .2l-10.3 1.2l-4.1 .3l-22.7 -.2l-10.3 .4l-7.2 .6l-5.1 .9l-2.7 .7l-1.4 .7l-2.1 2l-1.7 2.5l-.9 2.4l-.2 1.2l.2 .8l-.3 .4l-5.2 3.2l0 .4l1.9 .3l9.1 .5ZM259.3 256.5l-4 -.4l-3.5 -.8l-1.8 -.8l-.4 -.4l-.2 -.8l.6 -.8l.7 -.4l3.6 -1.1l4.1 -.6l5.1 -.3l5.2 .2l5.1 .5l6 1.3l1.8 .8l-1.1 .8l-1.9 .8l-2.7 .8l-3.1 .6l-6.2 .7l-7.2 -.1ZM294.6 255.3l-3.4 -.4l-3.8 -.8l-4 -1.2l-.1 -.4l2.2 -1.6l2.4 -1.2l4.4 -1.2l4.2 -.4l4.1 .1l4.4 .7l3.4 1.2l.9 .8l.2 .4l-.1 .8l-.7 .8l-1.3 .8l-1.7 .7l-2.3 .5l-2.8 .4l-5.2 .1Z"/>
<path fill="#f7f6f6" stroke="#f7f6f6" stroke-width="0.35" d="M127.7 351.7l245.9 0l0 -11.1l-6.2 -.4l-5.1 0l-19.5 1.4l-17.5 .4l-198.6 0l0 9.7ZM359.2 331.3l6.2 0l8.2 -.6l0 -7.3l-5.1 1.6l-6.5 1.5l-11 .8l-11.3 .3l-12.4 -.2l-12.5 -.9l-2.9 -.7l-3.1 -1l-8.2 -3.6l-2.1 -.6l-2 -.3l-2.1 -.1l-3.1 .4l-8.1 1.9l-8.4 1.5l-3 .2l-2.1 -.2l-3.1 -.6l-3 -.9l-2.5 -1.2l-1.7 -1.2l-1.8 -2l-.7 -1.2l-.5 -1.6l-.1 -2l1.1 -2.4l-.3 -1.2l-.8 -.8l-1.5 -.8l-2.5 -.8l-3.5 -.8l-8.9 -1.3l-20.6 -2.4l-19.6 -1.4l-30.8 -3l-12.4 -.8l-9.2 -.9l-9.3 -.2l-11.3 .4l0 3.6l3.2 -.8l5 -.5l6.2 -.2l7.2 .3l17.5 1.9l18.5 1.3l13.4 1.4l15.4 .5l6.2 .4l10.1 1.3l6.7 1.2l2.5 .8l.7 .4l.5 .4l.1 .4l-.2 .4l-.9 .8l-3.9 2l-.4 .4l0 .4l.9 .8l5.6 2.8l1.5 1.2l.9 1.2l.9 2l0 1.2l-.2 .8l-1.2 1.6l-2.6 1.6l3.7 .7l6.2 .8l7.2 .6l8.2 .4l5.1 0l3.1 -.5l7.2 -2.7l2.1 -.5l8.2 -1.2l3.1 -.1l2.1 .4l1 .4l1.4 .9l.7 .8l4.1 1.6l3 .9l3.1 .5l8.4 .6l26.6 .6l14.1 .6ZM132.9 329.3l10.2 -.2l8.3 -.5l5.1 -.6l11.3 -1.7l4.2 -.4l18.5 -.2l5.1 -.3l3.7 -.5l2.9 -.8l2 -1.2l5.2 -5.2l4.2 -3.2l.4 -.4l0 -.4l-.3 -.4l-.8 -.4l-2.7 -.8l-12.5 -2.6l-6.2 -1l-21.5 -1.6l-18.6 -2l-3.1 0l-4.1 .9l-3.1 0l-2.1 -.4l-3.1 -1l-6.3 -.7l-2.9 -1l0 4.3l21.6 1.4l32.8 3.7l4.4 .8l3.9 1.2l1.9 1.2l.6 1.2l-.2 1.2l-.7 .8l-2.6 1.4l-4.1 1.2l-6.2 .9l-25.7 2.7l-7.2 .5l-9.3 .1l-4.1 -.3l-5.1 -.7l0 4.9l5.5 .1ZM373.6 310.6l0 -8.4l-3.1 .7l-3.1 .4l-4.1 .2l-4.1 -.2l-4.3 -.4l-3.8 -.8l-1.9 -.8l-.8 -.8l.1 -.4l.4 -.4l2.1 -.9l3.1 -.7l4.1 -.4l4.1 -.1l4.1 .2l4.1 .5l3.1 .8l0 -3.7l-5.1 -.7l-5.2 -.3l-5.1 0l-5.2 .4l-5.1 .8l-4.9 1.3l-3.3 1.5l-.8 .5l-.6 .8l-.1 .8l.1 .4l.8 .8l2.4 1.2l3.3 1.1l9.3 2.3l17.3 3.4l2.1 .8ZM152.4 277.3l5.1 0l5.2 -.5l3 -.7l5.2 -2.1l2.1 -.4l2 0l13.4 1.1l8.2 .1l8.3 -.4l12.3 -1.5l5.2 -.1l4.1 .2l4.1 .5l2.1 .5l5.9 2.1l3.3 .5l2.1 0l7.2 -.6l12.3 .3l8.3 0l9.2 -.3l9.3 -.7l7.2 -.8l12.3 -1.9l6.2 -.6l6.2 -.2l29.8 .1l9.3 -.3l7.5 -.7l2.6 -.4l2.2 -.6l0 -7l-5.8 .8l-6.5 .5l-9.3 .3l-9.2 .1l-10.3 -.3l-8.3 -.5l-4.3 -.5l-2 -.4l-.5 -.4l.5 -.4l1.2 -.4l6.9 -1.2l7.5 -.7l7.2 -.3l10.3 -.1l9.2 .2l7.5 .5l5.9 .8l0 -14.2l-8.2 .9l-8.2 .6l-8.3 .3l-8.2 0l-7.2 -.4l-6.5 -.8l-3.7 -.8l-2.4 -.8l-1.4 -.8l-.6 -.8l-1.3 -.4l-7.8 -.4l-11.3 -.2l-21.6 .2l-32.9 0l-18.3 .4l-2.3 .4l-.8 .4l-6.4 4.1l-3.4 1.5l-1.7 1.2l-1.2 .4l-1.9 .4l-2.1 .1l-7.2 -.8l-3.1 0l-5.1 .5l-3.1 .8l-3.1 1.1l-5.1 2.6l-4.6 2.9l-3.4 1.2l-4.4 1.2l-4.1 .6l-4.1 .4l-5.2 .2l-6.1 -.2l-5.8 -.6l-3.9 -.8l-3.2 -1.2l-1 -.8l1.6 -2.4l.1 -1.2l-.3 -.8l-2.2 -3.2l-.4 -1.6l-5.5 -2.6l0 18l16.4 1.1l13.4 .3l7.2 -.2l7.2 -.4l7.2 -.8l7.2 -1l9.3 -.7l6.2 -.1l8.2 .2l3.4 .2l.2 .4l-5.6 2.4l-2.1 .5l-3.1 .2l-13.4 .2l-6.2 .4l-5.1 1l-6.2 2.2l-2 .3l-11.4 -.4l-7.2 .4l-3 .5l-2.1 .5l-1.4 .6l-.9 .8l.1 .8l.3 .4l1.6 .8l3.4 .8l4.1 .4ZM241.7 272.9l-.8 -.3l-.6 -.5l-.4 -.6l-.2 -.6l.4 -.8l.8 -.5l1.1 -.3l7.1 -.2l7.2 -1.5l8.2 -.7l7.3 -.1l12.3 .5l3.1 0l2 -.5l3.9 -1.9l4.4 -1.2l3.4 -.4l3.8 0l2 .3l.3 .1l.3 .4l-.4 .8l-.9 .8l-1.6 .8l-1.8 .7l-3.1 .7l-8.2 1l-5.8 2l-5.5 1.1l-7.2 .6l-7.2 .1l-6.2 -.4l-9.2 -1.2l-2.1 .4l-4.1 1.5l-2.1 0ZM230.4 264.1l-9.1 -.5l-1.9 -.3l0 -.4l5.2 -3.2l.3 -.4l-.2 -.8l.2 -1.2l.9 -2.4l1.7 -2.5l2.1 -2l1.4 -.7l2.7 -.7l5.1 -.9l7.2 -.6l10.3 -.4l22.7 .2l4.1 -.3l10.3 -1.2l4.1 -.2l3.1 .1l3.1 .3l4.1 .7l14.5 3.4l2.6 1.2l.9 .8l.4 .8l0 .8l-.4 .8l-.8 .8l-1.6 .8l-4.4 1.2l-8.1 1.2l-19.6 1.5l-13.4 1.5l-7.2 .6l-30.1 2l-10 0ZM127.7 232.7l245.9 0l0 -9l-246.9 0l0 9Z"/>
<path fill="#f8e5da" stroke="#f8e5da" stroke-width="0.35" d="M127.7 342.0l203.7 -.1l13.4 -.4l17.5 -1.3l5.1 0l6.2 .4l0 -2l-6.2 -.4l-5.1 0l-20.6 1.8l-16.4 .4l-198.6 .1l0 1.5ZM356.1 334.1l9.3 .2l8.2 -.3l0 -3.3l-7.2 .6l-5.1 0l-14.4 -.6l-28.7 -.6l-6.3 -.4l-4.1 -.5l-3.1 -.7l-5.1 -2l-.7 -.8l-1.4 -.9l-2.1 -.6l-2 -.2l-10.3 1.3l-2.1 .5l-7.2 2.7l-3.1 .5l-4.1 .1l-6.2 -.3l-13.1 -1.1l-5.5 -.8l-1.5 -.4l2.1 -1.2l1.3 -1.2l.5 -1.2l.1 -1.6l-.9 -2l-1.5 -1.7l-2 -1.4l-4.5 -2.1l-.9 -.8l0 -.4l.4 -.4l3.9 -2l.9 -.8l.2 -.4l-.1 -.4l-.5 -.4l-.7 -.4l-2.5 -.8l-6.7 -1.2l-10.1 -1.3l-6.2 -.4l-15.4 -.5l-13.4 -1.4l-18.5 -1.3l-17.5 -1.9l-7.2 -.3l-6.2 .2l-5 .5l-3.2 .8l0 2.2l.3 .2l3.8 1l5.4 .6l3.9 1.2l3 .2l5.2 -1l3.1 0l18.6 2l20.5 1.5l6.1 .9l13.6 2.8l2.7 .8l.8 .4l.3 .4l0 .4l-.4 .4l-4.2 3.2l-5.2 5.2l-2 1.2l-2.5 .7l-4.1 .6l-5.1 .3l-14.4 0l-5.2 .2l-16.4 2.4l-7.2 .6l-9.3 .3l-11.3 0l0 2.8l19.5 -.1l11.3 -.5l5.2 -.9l1.4 -.4l2.1 -1.2l2.7 -.8l3.1 -.4l3 -.1l6 .5l12.9 2l14.1 .8l35.3 .8l27.4 .2l3.1 -.2l2.5 -.4l3.2 -1.2l1.5 -1.2l1 -.5l1.5 -.3l1.6 -.1l3.1 .5l3.7 1.6l12.8 1.7l6.2 .4l28.8 .6l6.1 .3l9.6 1ZM133.9 302.9l-1.8 -.4l-.4 -.4l.5 -.4l.7 -.2l2 -.2l2.1 .3l.6 .5l-.3 .4l-1.4 .3l-2 .1ZM359.2 303.3l4.1 .2l4.1 -.2l3.1 -.4l3.1 -.7l0 -3.1l-2.2 -.6l-4 -.6l-4.1 -.3l-4.1 0l-4.1 .4l-3.1 .5l-2.5 .8l-1 .8l-.1 .4l.5 .6l2.1 1l3.1 .7l4.4 .5ZM241.9 273.0l2.1 0l4.1 -1.5l2.1 -.4l9.2 1.2l6.2 .4l7.2 -.1l7.2 -.6l5.5 -1.1l5.8 -2l8.2 -1l3.1 -.7l1.8 -.7l1.6 -.8l.9 -.8l.4 -.8l-.3 -.4l-.3 -.1l-2 -.3l-3.8 0l-3.4 .4l-4.4 1.2l-3.9 1.9l-2 .5l-3.1 0l-12.3 -.5l-7.3 .1l-8.2 .7l-7.2 1.5l-7.1 .2l-1.1 .3l-.8 .5l-.4 .8l.2 .6l.4 .6l.6 .5l.8 .3ZM339.7 264.5l15.4 -.1l13.4 -.8l5.1 -.7l0 -2l-5.9 -.8l-7.5 -.5l-9.2 -.2l-10.3 .1l-7.2 .3l-7.5 .7l-6.9 1.2l-1.2 .4l-.5 .4l.5 .4l1.2 .3l4.4 .5l6.9 .5l8.7 .3ZM152.4 262.9l5.1 -.1l4.2 -.3l4.1 -.6l4.1 -1l4.7 -1.6l4.6 -2.9l5.1 -2.6l3.1 -1.1l3.1 -.8l5.1 -.5l3.1 0l7.2 .8l2.1 -.1l1.9 -.4l1.2 -.4l1.7 -1.2l3.4 -1.5l6.4 -4.1l.8 -.4l2.3 -.4l18.3 -.4l32.9 0l21.6 -.2l10.3 .1l8.8 .5l1.3 .4l1.2 1.2l1.8 .8l3 .8l4.5 .8l7.2 .6l9.2 .2l14.4 -.5l13.4 -1.3l0 -4.3l-32.9 .3l-37 -.8l-64.9 .1l-13.3 .2l-38.5 1.5l-.4 .4l.8 .5l.3 .3l0 .4l-1.2 .8l-13.5 3.6l-1.1 .4l-4.3 2.8l-2.9 1.5l-4.1 1.2l-3.1 .3l-3 -.5l-2.1 -.8l-2.1 -1.3l-1.6 -1.6l-.6 -1.6l-.9 -1.6l-.3 -1.2l.4 -1.5l.6 -.9l.8 -.8l-.1 -.4l-9.6 -.9l-12.3 -.4l0 5.1l5.5 2.6l.1 .8l.5 1.2l2.2 3.2l.1 1.2l-1.5 2.4l-.2 .4l.3 .4l2.5 1.2l3.9 1l5.1 .7l6.6 .3ZM127.7 234.1l245.9 0l0 -1.4l-246.9 0l0 1.4Z"/>
<path fill="#f3cab5" stroke="#f3cab5" stroke-width="0.35" d="M127.7 340.5l201.7 -.1l13.4 -.5l14.4 -1.4l5.1 -.3l5.1 0l6.2 .4l0 -1.6l-6.2 -.4l-6.1 .1l-21.6 1.8l-15.5 .4l-61.7 .3l-26.8 -.2l-49.3 .2l-59.7 -.2l0 1.5ZM360.2 336.1l6.2 .1l7.2 -.6l0 -1.6l-7.2 .3l-6.2 0l-4.8 -.2l-9.6 -1l-6.1 -.3l-33 -.8l-5.1 -.5l-9.7 -1.4l-3.7 -1.6l-3.1 -.5l-1.6 .1l-1.5 .3l-1 .5l-1.5 1.2l-3.2 1.2l-2.5 .4l-3.1 .2l-27.4 -.2l-35.3 -.8l-14.1 -.8l-12.9 -2l-6 -.5l-3 .1l-3.1 .4l-2.7 .8l-2.1 1.2l-1.4 .4l-5.2 .9l-11.3 .5l-19.5 .1l0 1.9l29.8 -.1l19.6 -.5l42.2 .4l53.5 .1l4.3 -.1l9 -.7l21.6 .9l35.6 .6l7.6 .4l10.1 1.2ZM133.9 302.9l2 -.1l1.4 -.3l.3 -.4l-.6 -.5l-2.1 -.3l-2 .2l-.7 .2l-.5 .4l.4 .4l1.8 .4ZM156.5 255.8l3.1 0l3.1 -.7l4.1 -1.7l5.2 -3.3l4.1 -1.3l7.8 -1.9l2.6 -.8l1.2 -.8l0 -.4l-.3 -.3l-.8 -.5l.4 -.4l38.5 -1.5l13.3 -.2l64.9 -.1l37 .8l32.9 -.3l0 -1.3l-36 .1l-33.9 -.3l-66.9 0l-46.3 .8l-28.8 .8l-20.6 -1.1l-14.4 -.3l0 1.3l12.3 .4l9.6 .9l.1 .4l-.8 .8l-.6 .9l-.4 1.5l.3 1.2l.9 1.6l.6 1.6l1.1 1.2l1.6 1.1l2 1l2.4 .7ZM127.7 235.3l32.9 -.2l91.6 .2l63.8 -.2l57.6 .2l0 -1.2l-246.9 0l0 1.2Z"/>
<path fill="#e9a78b" stroke="#e9a78b" stroke-width="0.35" d="M127.7 339.0l58.7 .2l49.3 -.2l26.8 .2l64.8 -.3l13.4 -.5l20.6 -1.7l6.1 -.1l6.2 .4l0 -1.4l-5.1 .5l-5.2 .2l-4.1 -.3l-9.3 -1.1l-7.1 -.4l-10.3 -.3l-25.8 -.3l-21.6 -.9l-9 .7l-4.3 .1l-53.5 -.1l-42.2 -.4l-19.6 .5l-29.8 .1l0 1.1l54.5 -.3l52.5 .2l26.7 -.3l24.7 .1l45.3 .6l8.2 .4l7.3 .8l-7.3 .5l-9.2 .3l-44.3 .3l-21.6 .5l-26.7 -.5l-47.4 .5l-62.7 -.6l0 1.5ZM154.5 242.2l9.2 .3l26.8 -.8l48.3 -.8l64.9 0l33.9 .3l36 -.1l0 -1.1l-44.2 .3l-82.3 -.4l-85.4 .9l-35 -.7l0 1l14.4 .3l12.7 .7ZM127.7 236.5l34 -.3l46.3 0l45.2 .3l60.7 -.4l59.7 .4l0 -1.2l-54.5 -.2l-66.9 .2l-96.7 -.1l-28.8 .1l0 1.2Z"/>
<path fill="#d27b67" stroke="#d27b67" stroke-width="0.35" d="M256.3 338.1l10.3 0l19.6 -.5l42.1 -.3l9.3 -.2l8.3 -.6l-7.3 -.8l-8.2 -.4l-45.3 -.6l-24.7 -.1l-26.7 .3l-52.5 -.2l-54.5 .3l0 2.5l62.7 .6l47.4 -.5l19.3 .5ZM252.8 336.9l-6.8 -.4l9.3 -.7l6.2 -.2l7.2 .2l9.4 .7l-13.5 .6l-11.4 -.2ZM168.5 336.5l22 -.4l22.2 .4l-22.2 .3l-21.6 -.3ZM150.3 240.6l13.4 .2l85.4 -.9l80.3 .4l44.2 -.3l0 -3.5l-59.7 -.4l-60.7 .4l-45.2 -.3l-46.3 0l-35 .3l0 3.6l22.6 .4ZM159.5 238.5l-4.8 -.4l8 -.1l36 -.1l18.5 .2l-14.4 .4l-43.2 0ZM298.9 238.5l-14.1 -.4l12.7 -.4l16.4 -.2l13.4 .2l12.5 .4l-8.3 .4l-8.3 .2l-23.7 -.2Z"/>
<path fill="#b94e49" stroke="#b94e49" stroke-width="0.35" d="M253.2 336.9l11.4 .2l13.5 -.6l-9.4 -.7l-7.2 -.2l-6.2 .2l-9.3 .7l6.8 .4ZM168.9 336.5l21.6 .3l22.2 -.3l-22.2 -.4l-22 .4ZM159.6 238.5l43.2 0l14.4 -.4l-18.5 -.2l-36 .1l-8 .1l4.8 .4ZM299.5 238.5l23.7 .2l8.3 -.2l8.3 -.4l-12.5 -.4l-13.4 -.2l-16.4 .2l-12.7 .4l14.1 .4Z"/>
<path fill="none" stroke="#a0a0a0" stroke-opacity="0.5" stroke-width="0.7" d="M207.20 350.40L205.30 349.55L203.16 348.47L200.72 347.04L198.14 345.38L195.62 343.57L193.34 341.68L191.24 339.70L189.23 337.66L187.28 335.55L185.39 333.40L183.59 331.20L181.87 328.95L180.28 326.68L178.84 324.37L177.50 322.05L176.24 319.70L175.10 317.34L174.10 314.98L173.21 312.61L172.44 310.23L171.80 307.86L171.29 305.49L170.86 303.12L170.46 300.75L170.13 298.37L169.87 296.00L169.68 293.63L169.55 291.26L169.46 288.89L169.46 286.51L169.55 284.14L169.68 281.77L169.87 279.40L170.13 277.03L170.46 274.65L170.86 272.28L171.29 269.91L171.80 267.54L172.44 265.17L173.21 262.79L174.10 260.42L175.10 258.06L176.24 255.70L177.50 253.35L178.84 251.03L180.28 248.72L181.87 246.45L183.59 244.20L185.39 242.00L187.28 239.85L189.23 237.74L191.24 235.70L193.34 233.72L195.62 231.83L198.14 230.02L200.72 228.36L203.16 226.93L205.30 225.85L207.20 225.00M228.68 350.40L227.72 349.55L226.66 348.47L225.44 347.04L224.14 345.38L222.89 343.57L221.75 341.68L220.69 339.70L219.69 337.66L218.71 335.55L217.77 333.40L216.87 331.20L216.01 328.95L215.21 326.68L214.49 324.37L213.82 322.05L213.19 319.70L212.63 317.34L212.13 314.98L211.68 312.61L211.29 310.23L210.97 307.86L210.72 305.49L210.51 303.12L210.31 300.75L210.14 298.37L210.01 296.00L209.92 293.63L209.85 291.26L209.81 288.89L209.81 286.51L209.85 284.14L209.92 281.77L210.01 279.40L210.14 277.03L210.31 274.65L210.51 272.28L210.72 269.91L210.97 267.54L211.29 265.17L211.68 262.79L212.13 260.42L212.63 258.06L213.19 255.70L213.82 253.35L214.49 251.03L215.21 248.72L216.01 246.45L216.87 244.20L217.77 242.00L218.71 239.85L219.69 237.74L220.69 235.70L221.75 233.72L222.89 231.83L224.14 230.02L225.44 228.36L226.66 226.93L227.72 225.85L228.68 225.00M250.15 350.40L250.15 349.55L250.15 348.47L250.15 347.04L250.15 345.38L250.15 343.57L250.15 341.68L250.15 339.70L250.15 337.66L250.15 335.55L250.15 333.40L250.15 331.20L250.15 328.95L250.15 326.68L250.15 324.37L250.15 322.05L250.15 319.70L250.15 317.34L250.15 314.98L250.15 312.61L250.15 310.23L250.15 307.86L250.15 305.49L250.15 303.12L250.15 300.75L250.15 298.37L250.15 296.00L250.15 293.63L250.15 291.26L250.15 288.89L250.15 286.51L250.15 284.14L250.15 281.77L250.15 279.40L250.15 277.03L250.15 274.65L250.15 272.28L250.15 269.91L250.15 267.54L250.15 265.17L250.15 262.79L250.15 260.42L250.15 258.06L250.15 255.70L250.15 253.35L250.15 251.03L250.15 248.72L250.15 246.45L250.15 244.20L250.15 242.00L250.15 239.85L250.15 237.74L250.15 235.70L250.15 233.72L250.15 231.83L250.15 230.02L250.15 228.36L250.15 226.93L250.15 225.85L250.15 225.00M271.62 350.40L272.58 349.55L273.64 348.47L274.86 347.04L276.16 345.38L277.41 343.57L278.55 341.68L279.61 339.70L280.61 337.66L281.59 335.55L282.53 333.40L283.43 331.20L284.29 328.95L285.09 326.68L285.81 324.37L286.48 322.05L287.11 319.70L287.67 317.34L288.17 314.98L288.62 312.61L289.01 310.23L289.33 307.86L289.58 305.49L289.79 303.12L289.99 300.75L290.16 298.37L290.29 296.00L290.38 293.63L290.45 291.26L290.49 288.89L290.49 286.51L290.45 284.14L290.38 281.77L290.29 279.40L290.16 277.03L289.99 274.65L289.79 272.28L289.58 269.91L289.33 267.54L289.01 265.17L288.62 262.79L288.17 260.42L287.67 258.06L287.11 255.70L286.48 253.35L285.81 251.03L285.09 248.72L284.29 246.45L283.43 244.20L282.53 242.00L281.59 239.85L280.61 237.74L279.61 235.70L278.55 233.72L277.41 231.83L276.16 230.02L274.86 228.36L273.64 226.93L272.58 225.85L271.62 225.00M293.10 350.40L295.00 349.55L297.14 348.47L299.58 347.04L302.16 345.38L304.68 343.57L306.96 341.68L309.06 339.70L311.07 337.66L313.02 335.55L314.91 333.40L316.71 331.20L318.43 328.95L320.02 326.68L321.46 324.37L322.80 322.05L324.06 319.70L325.20 317.34L326.20 314.98L327.09 312.61L327.86 310.23L328.50 307.86L329.01 305.49L329.44 303.12L329.84 300.75L330.17 298.37L330.43 296.00L330.62 293.63L330.75 291.26L330.84 288.89L330.84 286.51L330.75 284.14L330.62 281.77L330.43 279.40L330.17 277.03L329.84 274.65L329.44 272.28L329.01 269.91L328.50 267.54L327.86 265.17L327.09 262.79L326.20 260.42L325.20 258.06L324.06 255.70L322.80 253.35L321.46 251.03L320.02 248.72L318.43 246.45L316.71 244.20L314.91 242.00L313.02 239.85L311.07 237.74L309.06 235.70L306.96 233.72L304.68 231.83L302.16 230.02L299.58 228.36L297.14 226.93L295.00 225.85L293.10 225.00M153.48 333.76L346.82 333.76M133.94 311.02L366.36 311.02M129.10 287.70L371.20 287.70M133.94 264.38L366.36 264.38M153.48 241.64L346.82 241.64"/>
</g>
<path fill="none" stroke="#3a3a3a" stroke-width="0.9" d="M185.73 350.40L183.86 349.85L181.88 349.24L179.71 348.48L177.32 347.57L174.80 346.54L172.22 345.42L169.68 344.24L167.28 343.01L165.05 341.74L162.93 340.44L160.89 339.11L158.90 337.75L156.95 336.36L155.04 334.95L153.17 333.52L151.36 332.07L149.60 330.59L147.90 329.11L146.28 327.60L144.76 326.09L143.34 324.56L141.99 323.02L140.69 321.47L139.44 319.91L138.28 318.35L137.21 316.79L136.22 315.22L135.30 313.65L134.46 312.07L133.70 310.50L133.03 308.93L132.44 307.36L131.94 305.78L131.51 304.21L131.10 302.64L130.70 301.07L130.34 299.49L130.03 297.92L129.78 296.35L129.57 294.78L129.41 293.20L129.27 291.63L129.17 290.06L129.11 288.49L129.11 286.91L129.17 285.34L129.27 283.77L129.41 282.20L129.57 280.62L129.78 279.05L130.03 277.48L130.34 275.91L130.70 274.33L131.10 272.76L131.51 271.19L131.94 269.62L132.44 268.04L133.03 266.47L133.70 264.90L134.46 263.33L135.30 261.75L136.22 260.18L137.21 258.61L138.28 257.05L139.44 255.49L140.69 253.93L141.99 252.38L143.34 250.84L144.76 249.31L146.28 247.80L147.90 246.29L149.60 244.81L151.36 243.33L153.17 241.88L155.04 240.45L156.95 239.04L158.90 237.65L160.89 236.29L162.93 234.96L165.05 233.66L167.28 232.39L169.68 231.16L172.22 229.98L174.80 228.86L177.32 227.83L179.71 226.92L181.88 226.16L183.86 225.55L185.73 225.00L314.57 225.00L316.44 225.55L318.42 226.16L320.59 226.92L322.98 227.83L325.50 228.86L328.08 229.98L330.62 231.16L333.02 232.39L335.25 233.66L337.37 234.96L339.41 236.29L341.40 237.65L343.35 239.04L345.26 240.45L347.13 241.88L348.94 243.33L350.70 244.81L352.40 246.29L354.02 247.80L355.54 249.31L356.96 250.84L358.31 252.38L359.61 253.93L360.86 255.49L362.02 257.05L363.09 258.61L364.08 260.18L365.00 261.75L365.84 263.33L366.60 264.90L367.27 266.47L367.86 268.04L368.36 269.62L368.79 271.19L369.20 272.76L369.60 274.33L369.96 275.91L370.27 277.48L370.52 279.05L370.73 280.62L370.89 282.20L371.03 283.77L371.13 285.34L371.19 286.91L371.19 288.49L371.13 290.06L371.03 291.63L370.89 293.20L370.73 294.78L370.52 296.35L370.27 297.92L369.96 299.49L369.60 301.07L369.20 302.64L368.79 304.21L368.36 305.78L367.86 307.36L367.27 308.93L366.60 310.50L365.84 312.07L365.00 313.65L364.08 315.22L363.09 316.79L362.02 318.35L360.86 319.91L359.61 321.47L358.31 323.02L356.96 324.56L355.54 326.09L354.02 327.60L352.40 329.11L350.70 330.59L348.94 332.07L347.13 333.52L345.26 334.95L343.35 336.36L341.40 337.75L339.41 339.11L337.37 340.44L335.25 341.74L333.02 343.01L330.62 344.24L328.08 345.42L325.50 346.54L322.98 347.57L320.59 348.48L318.42 349.24L316.44 349.85L314.57 350.40Z"/>
<g fill="#000" style="will-change:transform">
<text x="65.15" y="18.80" font-size="6.50" text-anchor="middle" textLength="13.00" lengthAdjust="spacingAndGlyphs">180°</text>
<text x="65.15" y="139.30" font-size="6.50" text-anchor="middle" textLength="13.00" lengthAdjust="spacingAndGlyphs">180°</text>
<text x="85.67" y="18.80" font-size="6.50" text-anchor="middle" textLength="19.20" lengthAdjust="spacingAndGlyphs">120°W</text>
<text x="85.67" y="139.30" font-size="6.50" text-anchor="middle" textLength="19.20" lengthAdjust="spacingAndGlyphs">120°W</text>
<text x="104.38" y="18.80" font-size="6.50" text-anchor="middle" textLength="15.69" lengthAdjust="spacingAndGlyphs">60°W</text>
<text x="104.38" y="139.30" font-size="6.50" text-anchor="middle" textLength="15.69" lengthAdjust="spacingAndGlyphs">60°W</text>
<text x="123.10" y="18.80" font-size="6.50" text-anchor="middle" textLength="5.75" lengthAdjust="spacingAndGlyphs">0°</text>
<text x="123.10" y="139.30" font-size="6.50" text-anchor="middle" textLength="5.75" lengthAdjust="spacingAndGlyphs">0°</text>
<text x="141.82" y="18.80" font-size="6.50" text-anchor="middle" textLength="13.40" lengthAdjust="spacingAndGlyphs">60°E</text>
<text x="141.82" y="139.30" font-size="6.50" text-anchor="middle" textLength="13.40" lengthAdjust="spacingAndGlyphs">60°E</text>
<text x="160.53" y="18.80" font-size="6.50" text-anchor="middle" textLength="16.91" lengthAdjust="spacingAndGlyphs">120°E</text>
<text x="160.53" y="139.30" font-size="6.50" text-anchor="middle" textLength="16.91" lengthAdjust="spacingAndGlyphs">120°E</text>
<text x="181.05" y="18.80" font-size="6.50" text-anchor="middle" textLength="13.00" lengthAdjust="spacingAndGlyphs">180°</text>
<text x="181.05" y="139.30" font-size="6.50" text-anchor="middle" textLength="13.00" lengthAdjust="spacingAndGlyphs">180°</text>
<text x="27.53" y="38.75" font-size="6.50" text-anchor="middle" textLength="13.88" lengthAdjust="spacingAndGlyphs">60°N</text>
<text x="218.67" y="38.75" font-size="6.50" text-anchor="middle" textLength="13.88" lengthAdjust="spacingAndGlyphs">60°N</text>
<text x="12.00" y="58.57" font-size="6.50" text-anchor="middle" textLength="13.84" lengthAdjust="spacingAndGlyphs">30°N</text>
<text x="234.20" y="58.57" font-size="6.50" text-anchor="middle" textLength="13.84" lengthAdjust="spacingAndGlyphs">30°N</text>
<text x="11.82" y="78.90" font-size="6.50" text-anchor="middle" textLength="5.75" lengthAdjust="spacingAndGlyphs">0°</text>
<text x="234.38" y="78.90" font-size="6.50" text-anchor="middle" textLength="5.75" lengthAdjust="spacingAndGlyphs">0°</text>
<text x="12.21" y="99.23" font-size="6.50" text-anchor="middle" textLength="13.42" lengthAdjust="spacingAndGlyphs">30°S</text>
<text x="233.99" y="99.23" font-size="6.50" text-anchor="middle" textLength="13.42" lengthAdjust="spacingAndGlyphs">30°S</text>
<text x="27.74" y="119.05" font-size="6.50" text-anchor="middle" textLength="13.46" lengthAdjust="spacingAndGlyphs">60°S</text>
<text x="218.46" y="119.05" font-size="6.50" text-anchor="middle" textLength="13.46" lengthAdjust="spacingAndGlyphs">60°S</text>
<text x="319.08" y="18.80" font-size="6.50" text-anchor="middle" textLength="13.00" lengthAdjust="spacingAndGlyphs">180°</text>
<text x="319.08" y="139.30" font-size="6.50" text-anchor="middle" textLength="13.00" lengthAdjust="spacingAndGlyphs">180°</text>
<text x="339.57" y="18.80" font-size="6.50" text-anchor="middle" textLength="19.20" lengthAdjust="spacingAndGlyphs">120°W</text>
<text x="339.57" y="139.30" font-size="6.50" text-anchor="middle" textLength="19.20" lengthAdjust="spacingAndGlyphs">120°W</text>
<text x="358.26" y="18.80" font-size="6.50" text-anchor="middle" textLength="15.69" lengthAdjust="spacingAndGlyphs">60°W</text>
<text x="358.26" y="139.30" font-size="6.50" text-anchor="middle" textLength="15.69" lengthAdjust="spacingAndGlyphs">60°W</text>
<text x="376.95" y="18.80" font-size="6.50" text-anchor="middle" textLength="5.75" lengthAdjust="spacingAndGlyphs">0°</text>
<text x="376.95" y="139.30" font-size="6.50" text-anchor="middle" textLength="5.75" lengthAdjust="spacingAndGlyphs">0°</text>
<text x="395.64" y="18.80" font-size="6.50" text-anchor="middle" textLength="13.40" lengthAdjust="spacingAndGlyphs">60°E</text>
<text x="395.64" y="139.30" font-size="6.50" text-anchor="middle" textLength="13.40" lengthAdjust="spacingAndGlyphs">60°E</text>
<text x="414.33" y="18.80" font-size="6.50" text-anchor="middle" textLength="16.91" lengthAdjust="spacingAndGlyphs">120°E</text>
<text x="414.33" y="139.30" font-size="6.50" text-anchor="middle" textLength="16.91" lengthAdjust="spacingAndGlyphs">120°E</text>
<text x="434.82" y="18.80" font-size="6.50" text-anchor="middle" textLength="13.00" lengthAdjust="spacingAndGlyphs">180°</text>
<text x="434.82" y="139.30" font-size="6.50" text-anchor="middle" textLength="13.00" lengthAdjust="spacingAndGlyphs">180°</text>
<text x="281.50" y="38.75" font-size="6.50" text-anchor="middle" textLength="13.88" lengthAdjust="spacingAndGlyphs">60°N</text>
<text x="472.40" y="38.75" font-size="6.50" text-anchor="middle" textLength="13.88" lengthAdjust="spacingAndGlyphs">60°N</text>
<text x="265.99" y="58.57" font-size="6.50" text-anchor="middle" textLength="13.84" lengthAdjust="spacingAndGlyphs">30°N</text>
<text x="487.91" y="58.57" font-size="6.50" text-anchor="middle" textLength="13.84" lengthAdjust="spacingAndGlyphs">30°N</text>
<text x="265.82" y="78.90" font-size="6.50" text-anchor="middle" textLength="5.75" lengthAdjust="spacingAndGlyphs">0°</text>
<text x="488.08" y="78.90" font-size="6.50" text-anchor="middle" textLength="5.75" lengthAdjust="spacingAndGlyphs">0°</text>
<text x="266.20" y="99.23" font-size="6.50" text-anchor="middle" textLength="13.42" lengthAdjust="spacingAndGlyphs">30°S</text>
<text x="487.70" y="99.23" font-size="6.50" text-anchor="middle" textLength="13.42" lengthAdjust="spacingAndGlyphs">30°S</text>
<text x="281.71" y="119.05" font-size="6.50" text-anchor="middle" textLength="13.46" lengthAdjust="spacingAndGlyphs">60°S</text>
<text x="472.19" y="119.05" font-size="6.50" text-anchor="middle" textLength="13.46" lengthAdjust="spacingAndGlyphs">60°S</text>
<text x="183.93" y="221.90" font-size="5.00" text-anchor="middle" textLength="10.14" lengthAdjust="spacingAndGlyphs">180°</text>
<text x="183.93" y="356.35" font-size="5.00" text-anchor="middle" textLength="10.14" lengthAdjust="spacingAndGlyphs">180°</text>
<text x="207.20" y="221.90" font-size="5.00" text-anchor="middle" textLength="14.97" lengthAdjust="spacingAndGlyphs">120°W</text>
<text x="207.20" y="356.35" font-size="5.00" text-anchor="middle" textLength="14.97" lengthAdjust="spacingAndGlyphs">120°W</text>
<text x="228.68" y="221.90" font-size="5.00" text-anchor="middle" textLength="12.23" lengthAdjust="spacingAndGlyphs">60°W</text>
<text x="228.68" y="356.35" font-size="5.00" text-anchor="middle" textLength="12.23" lengthAdjust="spacingAndGlyphs">60°W</text>
<text x="250.15" y="221.90" font-size="5.00" text-anchor="middle" textLength="4.49" lengthAdjust="spacingAndGlyphs">0°</text>
<text x="250.15" y="356.35" font-size="5.00" text-anchor="middle" textLength="4.49" lengthAdjust="spacingAndGlyphs">0°</text>
<text x="271.62" y="221.90" font-size="5.00" text-anchor="middle" textLength="10.44" lengthAdjust="spacingAndGlyphs">60°E</text>
<text x="271.62" y="356.35" font-size="5.00" text-anchor="middle" textLength="10.44" lengthAdjust="spacingAndGlyphs">60°E</text>
<text x="293.10" y="221.90" font-size="5.00" text-anchor="middle" textLength="13.19" lengthAdjust="spacingAndGlyphs">120°E</text>
<text x="293.10" y="356.35" font-size="5.00" text-anchor="middle" textLength="13.19" lengthAdjust="spacingAndGlyphs">120°E</text>
<text x="316.37" y="221.90" font-size="5.00" text-anchor="middle" textLength="10.14" lengthAdjust="spacingAndGlyphs">180°</text>
<text x="316.37" y="356.35" font-size="5.00" text-anchor="middle" textLength="10.14" lengthAdjust="spacingAndGlyphs">180°</text>
<text x="143.92" y="243.32" font-size="5.00" text-anchor="middle" textLength="10.82" lengthAdjust="spacingAndGlyphs">60°N</text>
<text x="356.38" y="243.32" font-size="5.00" text-anchor="middle" textLength="10.82" lengthAdjust="spacingAndGlyphs">60°N</text>
<text x="125.55" y="266.05" font-size="5.00" text-anchor="middle" textLength="10.79" lengthAdjust="spacingAndGlyphs">30°N</text>
<text x="374.75" y="266.05" font-size="5.00" text-anchor="middle" textLength="10.79" lengthAdjust="spacingAndGlyphs">30°N</text>
<text x="123.86" y="289.38" font-size="5.00" text-anchor="middle" textLength="4.49" lengthAdjust="spacingAndGlyphs">0°</text>
<text x="376.44" y="289.38" font-size="5.00" text-anchor="middle" textLength="4.49" lengthAdjust="spacingAndGlyphs">0°</text>
<text x="125.71" y="312.70" font-size="5.00" text-anchor="middle" textLength="10.47" lengthAdjust="spacingAndGlyphs">30°S</text>
<text x="374.59" y="312.70" font-size="5.00" text-anchor="middle" textLength="10.47" lengthAdjust="spacingAndGlyphs">30°S</text>
<text x="144.08" y="335.44" font-size="5.00" text-anchor="middle" textLength="10.50" lengthAdjust="spacingAndGlyphs">60°S</text>
<text x="356.22" y="335.44" font-size="5.00" text-anchor="middle" textLength="10.50" lengthAdjust="spacingAndGlyphs">60°S</text>
<text x="123.25" y="10.90" font-size="7.50" text-anchor="middle" textLength="65.74" lengthAdjust="spacingAndGlyphs">No ocean dynamics</text>
<text x="377.00" y="10.90" font-size="7.50" text-anchor="middle" textLength="66.20" lengthAdjust="spacingAndGlyphs">Ocean dynamics on</text>
<text x="250.00" y="215.40" font-size="6.50" text-anchor="middle" textLength="58.78" lengthAdjust="spacingAndGlyphs">Difference (ON - OFF)</text>
<rect x="134.10" y="164.40" width="13.65" height="11.80" fill="#113e6f" stroke="#113e6f" stroke-width="0.3"/>
<rect x="147.75" y="164.40" width="13.65" height="11.80" fill="#235d9a" stroke="#235d9a" stroke-width="0.3"/>
<rect x="161.39" y="164.40" width="13.65" height="11.80" fill="#3679af" stroke="#3679af" stroke-width="0.3"/>
<rect x="175.04" y="164.40" width="13.65" height="11.80" fill="#4c93be" stroke="#4c93be" stroke-width="0.3"/>
<rect x="188.69" y="164.40" width="13.65" height="11.80" fill="#79b1cf" stroke="#79b1cf" stroke-width="0.3"/>
<rect x="202.34" y="164.40" width="13.65" height="11.80" fill="#a3cbdf" stroke="#a3cbdf" stroke-width="0.3"/>
<rect x="215.98" y="164.40" width="13.65" height="11.80" fill="#c7deea" stroke="#c7deea" stroke-width="0.3"/>
<rect x="229.63" y="164.40" width="13.65" height="11.80" fill="#e1ecf2" stroke="#e1ecf2" stroke-width="0.3"/>
<rect x="243.28" y="164.40" width="13.65" height="11.80" fill="#f7f6f6" stroke="#f7f6f6" stroke-width="0.3"/>
<rect x="256.92" y="164.40" width="13.65" height="11.80" fill="#f8e7dd" stroke="#f8e7dd" stroke-width="0.3"/>
<rect x="270.57" y="164.40" width="13.65" height="11.80" fill="#f5d2bf" stroke="#f5d2bf" stroke-width="0.3"/>
<rect x="284.22" y="164.40" width="13.65" height="11.80" fill="#edb49a" stroke="#edb49a" stroke-width="0.3"/>
<rect x="297.86" y="164.40" width="13.65" height="11.80" fill="#dc9078" stroke="#dc9078" stroke-width="0.3"/>
<rect x="311.51" y="164.40" width="13.65" height="11.80" fill="#c86958" stroke="#c86958" stroke-width="0.3"/>
<rect x="325.16" y="164.40" width="13.65" height="11.80" fill="#b14041" stroke="#b14041" stroke-width="0.3"/>
<rect x="338.81" y="164.40" width="13.65" height="11.80" fill="#961d2e" stroke="#961d2e" stroke-width="0.3"/>
<rect x="352.45" y="164.40" width="13.65" height="11.80" fill="#6d0d24" stroke="#6d0d24" stroke-width="0.3"/>
<rect x="134.10" y="164.40" width="232.00" height="11.80" fill="none" stroke="#1a1a1a" stroke-width="0.6"/>
<text x="147.75" y="185.00" font-size="6.50" text-anchor="middle" textLength="3.12" lengthAdjust="spacingAndGlyphs">0</text>
<text x="175.04" y="185.00" font-size="6.50" text-anchor="middle" textLength="2.92" lengthAdjust="spacingAndGlyphs">5</text>
<text x="202.34" y="185.00" font-size="6.50" text-anchor="middle" textLength="6.80" lengthAdjust="spacingAndGlyphs">10</text>
<text x="229.63" y="185.00" font-size="6.50" text-anchor="middle" textLength="6.67" lengthAdjust="spacingAndGlyphs">15</text>
<text x="256.92" y="185.00" font-size="6.50" text-anchor="middle" textLength="7.02" lengthAdjust="spacingAndGlyphs">20</text>
<text x="284.22" y="185.00" font-size="6.50" text-anchor="middle" textLength="6.89" lengthAdjust="spacingAndGlyphs">25</text>
<text x="311.51" y="185.00" font-size="6.50" text-anchor="middle" textLength="7.00" lengthAdjust="spacingAndGlyphs">30</text>
<text x="338.81" y="185.00" font-size="6.50" text-anchor="middle" textLength="6.88" lengthAdjust="spacingAndGlyphs">35</text>
<text x="366.10" y="185.00" font-size="6.50" text-anchor="middle" textLength="7.17" lengthAdjust="spacingAndGlyphs">40</text>
<path stroke="#1a1a1a" stroke-width="0.6" d="M147.75 176.20L147.75 178.20M175.04 176.20L175.04 178.20M202.34 176.20L202.34 178.20M229.63 176.20L229.63 178.20M256.92 176.20L256.92 178.20M284.22 176.20L284.22 178.20M311.51 176.20L311.51 178.20M338.81 176.20L338.81 178.20M366.10 176.20L366.10 178.20"/>
<text x="250.10" y="194.60" font-size="8.50" text-anchor="middle" textLength="122.07" lengthAdjust="spacingAndGlyphs">Mixed Layer Temperature [in C]</text>
<rect x="155.40" y="377.60" width="12.65" height="9.50" fill="#124072" stroke="#124072" stroke-width="0.3"/>
<rect x="168.05" y="377.60" width="12.65" height="9.50" fill="#2664a2" stroke="#2664a2" stroke-width="0.3"/>
<rect x="180.69" y="377.60" width="12.65" height="9.50" fill="#3d81b4" stroke="#3d81b4" stroke-width="0.3"/>
<rect x="193.34" y="377.60" width="12.65" height="9.50" fill="#61a1c6" stroke="#61a1c6" stroke-width="0.3"/>
<rect x="205.99" y="377.60" width="12.65" height="9.50" fill="#94c3da" stroke="#94c3da" stroke-width="0.3"/>
<rect x="218.63" y="377.60" width="12.65" height="9.50" fill="#bdd9e7" stroke="#bdd9e7" stroke-width="0.3"/>
<rect x="231.28" y="377.60" width="12.65" height="9.50" fill="#deeaf1" stroke="#deeaf1" stroke-width="0.3"/>
<rect x="243.93" y="377.60" width="12.65" height="9.50" fill="#f7f6f6" stroke="#f7f6f6" stroke-width="0.3"/>
<rect x="256.57" y="377.60" width="12.65" height="9.50" fill="#f8e5da" stroke="#f8e5da" stroke-width="0.3"/>
<rect x="269.22" y="377.60" width="12.65" height="9.50" fill="#f3cab5" stroke="#f3cab5" stroke-width="0.3"/>
<rect x="281.87" y="377.60" width="12.65" height="9.50" fill="#e9a78b" stroke="#e9a78b" stroke-width="0.3"/>
<rect x="294.51" y="377.60" width="12.65" height="9.50" fill="#d27b67" stroke="#d27b67" stroke-width="0.3"/>
<rect x="307.16" y="377.60" width="12.65" height="9.50" fill="#b94e49" stroke="#b94e49" stroke-width="0.3"/>
<rect x="319.81" y="377.60" width="12.65" height="9.50" fill="#9e2030" stroke="#9e2030" stroke-width="0.3"/>
<rect x="332.45" y="377.60" width="12.65" height="9.50" fill="#700e25" stroke="#700e25" stroke-width="0.3"/>
<rect x="155.40" y="377.60" width="189.70" height="9.50" fill="none" stroke="#1a1a1a" stroke-width="0.6"/>
<text x="155.40" y="393.80" font-size="4.50" text-anchor="middle" textLength="13.21" lengthAdjust="spacingAndGlyphs">−9.25</text>
<text x="180.69" y="393.80" font-size="4.50" text-anchor="middle" textLength="13.29" lengthAdjust="spacingAndGlyphs">−6.78</text>
<text x="205.99" y="393.80" font-size="4.50" text-anchor="middle" textLength="13.15" lengthAdjust="spacingAndGlyphs">−4.32</text>
<text x="231.28" y="393.80" font-size="4.50" text-anchor="middle" textLength="13.21" lengthAdjust="spacingAndGlyphs">−1.85</text>
<text x="256.57" y="393.80" font-size="4.50" text-anchor="middle" textLength="9.48" lengthAdjust="spacingAndGlyphs">0.62</text>
<text x="281.87" y="393.80" font-size="4.50" text-anchor="middle" textLength="9.58" lengthAdjust="spacingAndGlyphs">3.08</text>
<text x="307.16" y="393.80" font-size="4.50" text-anchor="middle" textLength="9.49" lengthAdjust="spacingAndGlyphs">5.55</text>
<text x="332.45" y="393.80" font-size="4.50" text-anchor="middle" textLength="9.47" lengthAdjust="spacingAndGlyphs">8.02</text>
<path stroke="#1a1a1a" stroke-width="0.6" d="M155.40 387.10L155.40 389.10M180.69 387.10L180.69 389.10M205.99 387.10L205.99 389.10M231.28 387.10L231.28 389.10M256.57 387.10L256.57 389.10M281.87 387.10L281.87 389.10M307.16 387.10L307.16 389.10M332.45 387.10L332.45 389.10"/>
<text x="250.25" y="402.30" font-size="7.50" text-anchor="middle" textLength="99.06" lengthAdjust="spacingAndGlyphs">Mixed Layer Temperature [in C]</text>
</g></svg></body></html>
